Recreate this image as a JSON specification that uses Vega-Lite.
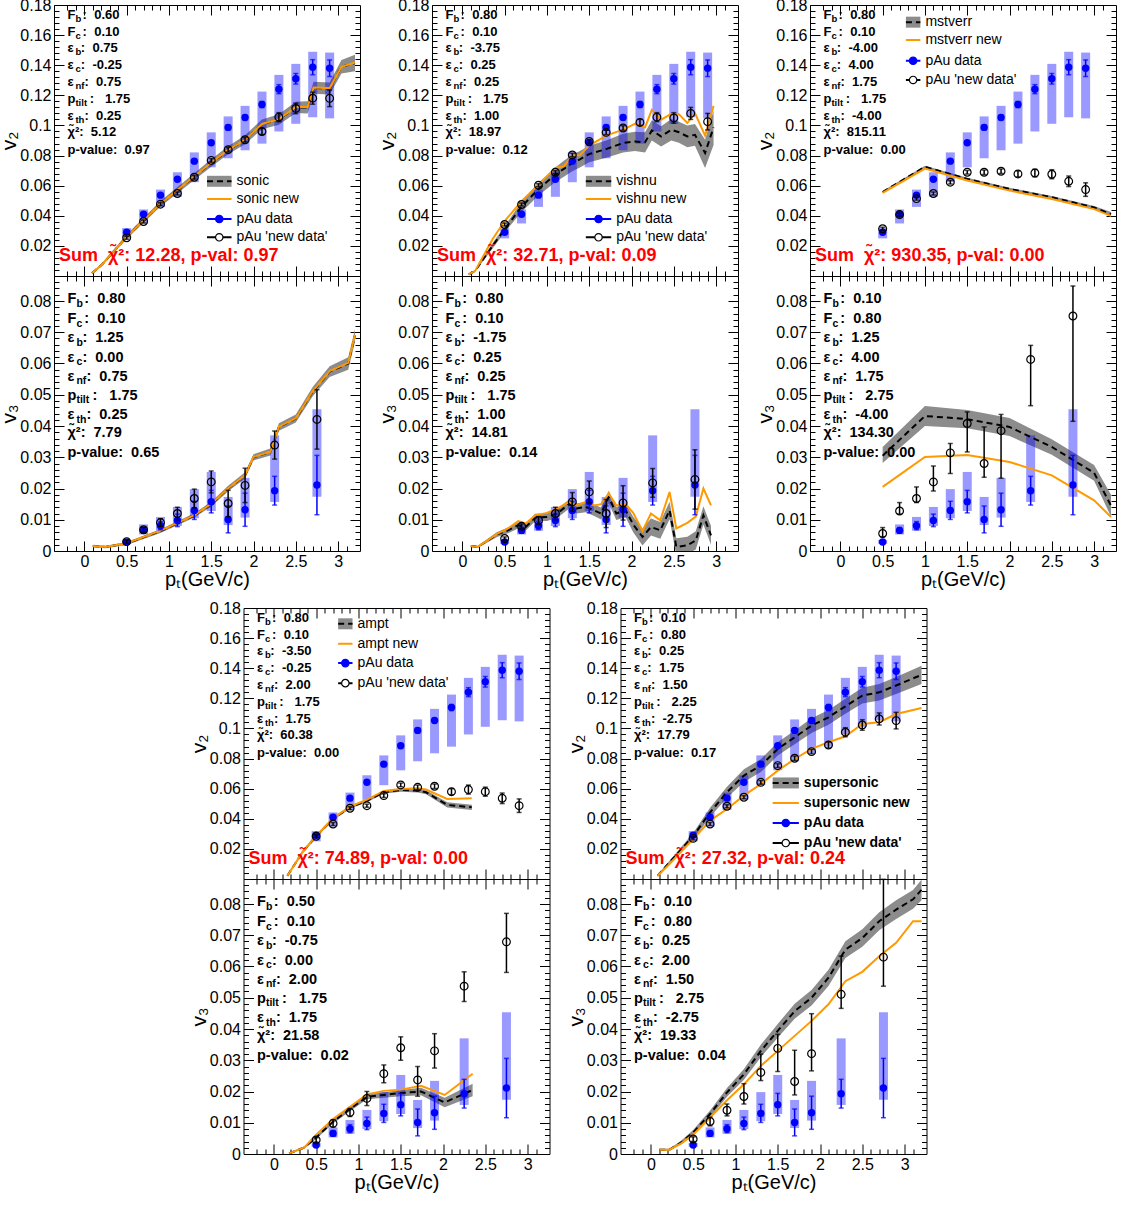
{
"$schema":"https://vega.github.io/schema/vega-lite/v6.json",
"background":"#ffffff",
"padding":{"left":-2,"top":-4,"right":0,"bottom":0},
"config":{"font":"Liberation Sans","view":{"stroke":"#000000","strokeWidth":1},
"axis":{"domain":false,"grid":false,"tickColor":"#000000","tickWidth":1,"labelFontSize":16,"labelColor":"#000000","labelOverlap":false,"labelFlush":false,"titleFontSize":21,"titleFontWeight":"normal","titleColor":"#000000"},
"axisBottom":{"titleFontSize":20,"titlePadding":-5}},
"datasets":{"d":[
{"k":"d","p":"all","v":"v2","pt":0.5,"val":0.0291,"lo":0.0281,"hi":0.0301,"slo":0.025,"shi":0.0318},
{"k":"d","p":"all","v":"v2","pt":0.7,"val":0.041,"lo":0.04,"hi":0.042,"slo":0.0349,"shi":0.0442},
{"k":"d","p":"all","v":"v2","pt":0.9,"val":0.0537,"lo":0.0527,"hi":0.0547,"slo":0.0459,"shi":0.0574},
{"k":"d","p":"all","v":"v2","pt":1.1,"val":0.0643,"lo":0.0633,"hi":0.0653,"slo":0.0526,"shi":0.0689},
{"k":"d","p":"all","v":"v2","pt":1.3,"val":0.0763,"lo":0.0751,"hi":0.0775,"slo":0.0623,"shi":0.0821},
{"k":"d","p":"all","v":"v2","pt":1.5,"val":0.0885,"lo":0.0873,"hi":0.0897,"slo":0.0722,"shi":0.0954},
{"k":"d","p":"all","v":"v2","pt":1.7,"val":0.0987,"lo":0.0972,"hi":0.1002,"slo":0.0782,"shi":0.106},
{"k":"d","p":"all","v":"v2","pt":1.9,"val":0.1053,"lo":0.1038,"hi":0.1068,"slo":0.0835,"shi":0.113},
{"k":"d","p":"all","v":"v2","pt":2.1,"val":0.1139,"lo":0.1119,"hi":0.1159,"slo":0.0879,"shi":0.1225},
{"k":"d","p":"all","v":"v2","pt":2.3,"val":0.1241,"lo":0.1211,"hi":0.1271,"slo":0.096,"shi":0.1336},
{"k":"d","p":"all","v":"v2","pt":2.5,"val":0.131,"lo":0.1275,"hi":0.1345,"slo":0.1011,"shi":0.1409},
{"k":"d","p":"all","v":"v2","pt":2.7,"val":0.1387,"lo":0.1337,"hi":0.1437,"slo":0.1055,"shi":0.149},
{"k":"d","p":"all","v":"v2","pt":2.9,"val":0.138,"lo":0.1325,"hi":0.1435,"slo":0.1047,"shi":0.1484},
{"k":"d","p":"all","v":"v3","pt":0.5,"val":0.0029,"lo":0.0024,"hi":0.0034,"slo":0.0023,"shi":0.0035},
{"k":"d","p":"all","v":"v3","pt":0.7,"val":0.0066,"lo":0.0057,"hi":0.0075,"slo":0.0053,"shi":0.0085},
{"k":"d","p":"all","v":"v3","pt":0.9,"val":0.0081,"lo":0.0068,"hi":0.0094,"slo":0.0065,"shi":0.0109},
{"k":"d","p":"all","v":"v3","pt":1.1,"val":0.0098,"lo":0.0078,"hi":0.0118,"slo":0.008,"shi":0.0141},
{"k":"d","p":"all","v":"v3","pt":1.3,"val":0.013,"lo":0.0101,"hi":0.0159,"slo":0.0105,"shi":0.0198},
{"k":"d","p":"all","v":"v3","pt":1.5,"val":0.0158,"lo":0.0122,"hi":0.0194,"slo":0.0128,"shi":0.0253},
{"k":"d","p":"all","v":"v3","pt":1.7,"val":0.0101,"lo":0.0058,"hi":0.0144,"slo":0.0083,"shi":0.0173},
{"k":"d","p":"all","v":"v3","pt":1.9,"val":0.0132,"lo":0.0079,"hi":0.0185,"slo":0.0107,"shi":0.0234},
{"k":"d","p":"all","v":"v3","pt":2.25,"val":0.0193,"lo":0.0147,"hi":0.0239,"slo":0.0157,"shi":0.037},
{"k":"d","p":"all","v":"v3","pt":2.75,"val":0.0211,"lo":0.0116,"hi":0.0306,"slo":0.0174,"shi":0.0454},

{"k":"m","p":"sonic","v":"v2","pt":0.09,"mid":0.0018,"lo":0.0012,"hi":0.0024,"nw":0.0018},
{"k":"m","p":"sonic","v":"v2","pt":0.21,"mid":0.0077,"lo":0.0068,"hi":0.0086,"nw":0.0077},
{"k":"m","p":"sonic","v":"v2","pt":0.5,"mid":0.026,"lo":0.0245,"hi":0.0275,"nw":0.026},
{"k":"m","p":"sonic","v":"v2","pt":0.9,"mid":0.048,"lo":0.0462,"hi":0.0498,"nw":0.048},
{"k":"m","p":"sonic","v":"v2","pt":1.3,"mid":0.066,"lo":0.0638,"hi":0.0682,"nw":0.0662},
{"k":"m","p":"sonic","v":"v2","pt":1.5,"mid":0.075,"lo":0.0725,"hi":0.0775,"nw":0.0752},
{"k":"m","p":"sonic","v":"v2","pt":1.7,"mid":0.0835,"lo":0.0808,"hi":0.0862,"nw":0.0838},
{"k":"m","p":"sonic","v":"v2","pt":1.9,"mid":0.0905,"lo":0.0875,"hi":0.0935,"nw":0.0905},
{"k":"m","p":"sonic","v":"v2","pt":2.1,"mid":0.1008,"lo":0.0975,"hi":0.104,"nw":0.101},
{"k":"m","p":"sonic","v":"v2","pt":2.3,"mid":0.104,"lo":0.1005,"hi":0.1075,"nw":0.1042},
{"k":"m","p":"sonic","v":"v2","pt":2.5,"mid":0.112,"lo":0.1083,"hi":0.1157,"nw":0.1122},
{"k":"m","p":"sonic","v":"v2","pt":2.64,"mid":0.112,"lo":0.108,"hi":0.116,"nw":0.1122},
{"k":"m","p":"sonic","v":"v2","pt":2.71,"mid":0.125,"lo":0.121,"hi":0.129,"nw":0.1252},
{"k":"m","p":"sonic","v":"v2","pt":2.9,"mid":0.1245,"lo":0.1205,"hi":0.1285,"nw":0.1248},
{"k":"m","p":"sonic","v":"v2","pt":3.04,"mid":0.139,"lo":0.1345,"hi":0.1435,"nw":0.139},
{"k":"m","p":"sonic","v":"v2","pt":3.2,"mid":0.1415,"lo":0.136,"hi":0.147,"nw":0.1418},
{"k":"m","p":"sonic","v":"v3","pt":0.1,"mid":0.0016,"lo":0.0012,"hi":0.002,"nw":0.0016},
{"k":"m","p":"sonic","v":"v3","pt":0.25,"mid":0.0013,"lo":0.0009,"hi":0.0017,"nw":0.0013},
{"k":"m","p":"sonic","v":"v3","pt":0.5,"mid":0.0024,"lo":0.0019,"hi":0.0029,"nw":0.0025},
{"k":"m","p":"sonic","v":"v3","pt":0.9,"mid":0.0064,"lo":0.0058,"hi":0.007,"nw":0.0065},
{"k":"m","p":"sonic","v":"v3","pt":1.3,"mid":0.0114,"lo":0.0107,"hi":0.0121,"nw":0.0115},
{"k":"m","p":"sonic","v":"v3","pt":1.5,"mid":0.015,"lo":0.0142,"hi":0.0158,"nw":0.0151},
{"k":"m","p":"sonic","v":"v3","pt":1.7,"mid":0.02,"lo":0.0191,"hi":0.0209,"nw":0.0201},
{"k":"m","p":"sonic","v":"v3","pt":1.9,"mid":0.0242,"lo":0.0232,"hi":0.0252,"nw":0.0243},
{"k":"m","p":"sonic","v":"v3","pt":2.0,"mid":0.03,"lo":0.029,"hi":0.031,"nw":0.0301},
{"k":"m","p":"sonic","v":"v3","pt":2.2,"mid":0.0317,"lo":0.0306,"hi":0.0328,"nw":0.0318},
{"k":"m","p":"sonic","v":"v3","pt":2.3,"mid":0.0397,"lo":0.0385,"hi":0.0409,"nw":0.0398},
{"k":"m","p":"sonic","v":"v3","pt":2.5,"mid":0.0424,"lo":0.0411,"hi":0.0437,"nw":0.0425},
{"k":"m","p":"sonic","v":"v3","pt":2.7,"mid":0.051,"lo":0.0495,"hi":0.0525,"nw":0.0512},
{"k":"m","p":"sonic","v":"v3","pt":2.9,"mid":0.0574,"lo":0.0557,"hi":0.0591,"nw":0.0576},
{"k":"m","p":"sonic","v":"v3","pt":3.12,"mid":0.06,"lo":0.058,"hi":0.062,"nw":0.0602},
{"k":"m","p":"sonic","v":"v3","pt":3.2,"mid":0.069,"lo":0.067,"hi":0.071,"nw":0.0692},

{"k":"m","p":"vishnu","v":"v2","pt":0.075,"mid":0.0011,"lo":0.0008,"hi":0.0014,"nw":0.0011},
{"k":"m","p":"vishnu","v":"v2","pt":0.15,"mid":0.0033,"lo":0.0028,"hi":0.0038,"nw":0.0033},
{"k":"m","p":"vishnu","v":"v2","pt":0.36,"mid":0.0203,"lo":0.0185,"hi":0.0221,"nw":0.0247},
{"k":"m","p":"vishnu","v":"v2","pt":0.5,"mid":0.031,"lo":0.029,"hi":0.033,"nw":0.0364},
{"k":"m","p":"vishnu","v":"v2","pt":0.7,"mid":0.046,"lo":0.0425,"hi":0.0495,"nw":0.0497},
{"k":"m","p":"vishnu","v":"v2","pt":0.9,"mid":0.0578,"lo":0.0535,"hi":0.062,"nw":0.0607},
{"k":"m","p":"vishnu","v":"v2","pt":1.1,"mid":0.0673,"lo":0.0625,"hi":0.072,"nw":0.0718},
{"k":"m","p":"vishnu","v":"v2","pt":1.2,"mid":0.0712,"lo":0.066,"hi":0.0765,"nw":0.0729},
{"k":"m","p":"vishnu","v":"v2","pt":1.3,"mid":0.075,"lo":0.0695,"hi":0.0805,"nw":0.08},
{"k":"m","p":"vishnu","v":"v2","pt":1.39,"mid":0.0775,"lo":0.072,"hi":0.083,"nw":0.0804},
{"k":"m","p":"vishnu","v":"v2","pt":1.5,"mid":0.081,"lo":0.0755,"hi":0.0865,"nw":0.0866},
{"k":"m","p":"vishnu","v":"v2","pt":1.7,"mid":0.0843,"lo":0.0785,"hi":0.09,"nw":0.0932},
{"k":"m","p":"vishnu","v":"v2","pt":1.9,"mid":0.0883,"lo":0.082,"hi":0.0945,"nw":0.0972},
{"k":"m","p":"vishnu","v":"v2","pt":2.04,"mid":0.0894,"lo":0.083,"hi":0.0958,"nw":0.1011},
{"k":"m","p":"vishnu","v":"v2","pt":2.16,"mid":0.0888,"lo":0.082,"hi":0.0955,"nw":0.0987},
{"k":"m","p":"vishnu","v":"v2","pt":2.24,"mid":0.0967,"lo":0.09,"hi":0.1035,"nw":0.1104},
{"k":"m","p":"vishnu","v":"v2","pt":2.35,"mid":0.0927,"lo":0.086,"hi":0.0995,"nw":0.1038},
{"k":"m","p":"vishnu","v":"v2","pt":2.47,"mid":0.0971,"lo":0.09,"hi":0.1042,"nw":0.1077},
{"k":"m","p":"vishnu","v":"v2","pt":2.56,"mid":0.0955,"lo":0.0885,"hi":0.1025,"nw":0.1075},
{"k":"m","p":"vishnu","v":"v2","pt":2.66,"mid":0.0927,"lo":0.0855,"hi":0.1,"nw":0.1016},
{"k":"m","p":"vishnu","v":"v2","pt":2.75,"mid":0.0938,"lo":0.0865,"hi":0.101,"nw":0.1082},
{"k":"m","p":"vishnu","v":"v2","pt":2.87,"mid":0.0817,"lo":0.0718,"hi":0.0905,"nw":0.0932},
{"k":"m","p":"vishnu","v":"v2","pt":2.97,"mid":0.0987,"lo":0.087,"hi":0.11,"nw":0.113},
{"k":"m","p":"vishnu","v":"v3","pt":0.1,"mid":0.0016,"lo":0.0013,"hi":0.0019,"nw":0.0016},
{"k":"m","p":"vishnu","v":"v3","pt":0.18,"mid":0.0013,"lo":0.001,"hi":0.0016,"nw":0.0013},
{"k":"m","p":"vishnu","v":"v3","pt":0.41,"mid":0.0053,"lo":0.0045,"hi":0.0061,"nw":0.0055},
{"k":"m","p":"vishnu","v":"v3","pt":0.54,"mid":0.0066,"lo":0.0057,"hi":0.0075,"nw":0.0072},
{"k":"m","p":"vishnu","v":"v3","pt":0.66,"mid":0.0082,"lo":0.0072,"hi":0.0092,"nw":0.0096},
{"k":"m","p":"vishnu","v":"v3","pt":0.75,"mid":0.0077,"lo":0.0066,"hi":0.0088,"nw":0.0088},
{"k":"m","p":"vishnu","v":"v3","pt":0.86,"mid":0.0107,"lo":0.0095,"hi":0.0119,"nw":0.0114},
{"k":"m","p":"vishnu","v":"v3","pt":1.0,"mid":0.0109,"lo":0.0096,"hi":0.0122,"nw":0.0122},
{"k":"m","p":"vishnu","v":"v3","pt":1.12,"mid":0.012,"lo":0.0106,"hi":0.0134,"nw":0.0136},
{"k":"m","p":"vishnu","v":"v3","pt":1.26,"mid":0.015,"lo":0.0135,"hi":0.0165,"nw":0.0157},
{"k":"m","p":"vishnu","v":"v3","pt":1.35,"mid":0.0136,"lo":0.012,"hi":0.0152,"nw":0.0146},
{"k":"m","p":"vishnu","v":"v3","pt":1.46,"mid":0.0141,"lo":0.0124,"hi":0.0158,"nw":0.0157},
{"k":"m","p":"vishnu","v":"v3","pt":1.56,"mid":0.013,"lo":0.0112,"hi":0.0148,"nw":0.0146},
{"k":"m","p":"vishnu","v":"v3","pt":1.64,"mid":0.012,"lo":0.0101,"hi":0.0139,"nw":0.015},
{"k":"m","p":"vishnu","v":"v3","pt":1.73,"mid":0.0173,"lo":0.0153,"hi":0.0193,"nw":0.0184},
{"k":"m","p":"vishnu","v":"v3","pt":1.82,"mid":0.012,"lo":0.0099,"hi":0.0141,"nw":0.0146},
{"k":"m","p":"vishnu","v":"v3","pt":1.93,"mid":0.013,"lo":0.0108,"hi":0.0152,"nw":0.015},
{"k":"m","p":"vishnu","v":"v3","pt":2.02,"mid":0.0085,"lo":0.006,"hi":0.011,"nw":0.0122},
{"k":"m","p":"vishnu","v":"v3","pt":2.13,"mid":0.0045,"lo":0.0018,"hi":0.0072,"nw":0.0064},
{"k":"m","p":"vishnu","v":"v3","pt":2.23,"mid":0.0077,"lo":0.005,"hi":0.0104,"nw":0.012},
{"k":"m","p":"vishnu","v":"v3","pt":2.34,"mid":0.0066,"lo":0.0039,"hi":0.0093,"nw":0.0098},
{"k":"m","p":"vishnu","v":"v3","pt":2.45,"mid":0.013,"lo":0.0102,"hi":0.0158,"nw":0.0189},
{"k":"m","p":"vishnu","v":"v3","pt":2.53,"mid":0.0013,"lo":-0.0015,"hi":0.0041,"nw":0.0072},
{"k":"m","p":"vishnu","v":"v3","pt":2.66,"mid":0.0018,"lo":-0.001,"hi":0.0046,"nw":0.009},
{"k":"m","p":"vishnu","v":"v3","pt":2.76,"mid":0.0034,"lo":0.0005,"hi":0.0063,"nw":0.011},
{"k":"m","p":"vishnu","v":"v3","pt":2.85,"mid":0.0114,"lo":0.0085,"hi":0.0143,"nw":0.02},
{"k":"m","p":"vishnu","v":"v3","pt":2.94,"mid":0.005,"lo":0.002,"hi":0.008,"nw":0.0146},

{"k":"m","p":"mstverr","v":"v2","pt":0.5,"mid":0.0558,"lo":0.0551,"hi":0.0565,"nw":0.0552},
{"k":"m","p":"mstverr","v":"v2","pt":1.0,"mid":0.0725,"lo":0.0717,"hi":0.0733,"nw":0.0713},
{"k":"m","p":"mstverr","v":"v2","pt":1.5,"mid":0.0645,"lo":0.0637,"hi":0.0653,"nw":0.0634},
{"k":"m","p":"mstverr","v":"v2","pt":2.0,"mid":0.0578,"lo":0.057,"hi":0.0586,"nw":0.0567},
{"k":"m","p":"mstverr","v":"v2","pt":2.5,"mid":0.0523,"lo":0.0515,"hi":0.0531,"nw":0.0512},
{"k":"m","p":"mstverr","v":"v2","pt":3.0,"mid":0.0455,"lo":0.0445,"hi":0.0465,"nw":0.0444},
{"k":"m","p":"mstverr","v":"v2","pt":3.2,"mid":0.041,"lo":0.0395,"hi":0.0425,"nw":0.0399},
{"k":"m","p":"mstverr","v":"v3","pt":0.5,"mid":0.0305,"lo":0.0282,"hi":0.0333,"nw":0.0205},
{"k":"m","p":"mstverr","v":"v3","pt":1.0,"mid":0.0432,"lo":0.04,"hi":0.0464,"nw":0.0301},
{"k":"m","p":"mstverr","v":"v3","pt":1.5,"mid":0.0422,"lo":0.0393,"hi":0.0451,"nw":0.0307},
{"k":"m","p":"mstverr","v":"v3","pt":2.0,"mid":0.0397,"lo":0.0368,"hi":0.0426,"nw":0.0285},
{"k":"m","p":"mstverr","v":"v3","pt":2.5,"mid":0.0333,"lo":0.0308,"hi":0.0358,"nw":0.0242},
{"k":"m","p":"mstverr","v":"v3","pt":3.0,"mid":0.025,"lo":0.0225,"hi":0.0275,"nw":0.0162},
{"k":"m","p":"mstverr","v":"v3","pt":3.2,"mid":0.0145,"lo":0.011,"hi":0.018,"nw":0.0109},

{"k":"m","p":"ampt","v":"v2","pt":0.16,"mid":0.0022,"lo":0.0015,"hi":0.0029,"nw":0.0022},
{"k":"m","p":"ampt","v":"v2","pt":0.34,"mid":0.018,"lo":0.017,"hi":0.019,"nw":0.018},
{"k":"m","p":"ampt","v":"v2","pt":0.5,"mid":0.0284,"lo":0.0274,"hi":0.0294,"nw":0.0286},
{"k":"m","p":"ampt","v":"v2","pt":0.7,"mid":0.04,"lo":0.039,"hi":0.041,"nw":0.0403},
{"k":"m","p":"ampt","v":"v2","pt":0.9,"mid":0.0476,"lo":0.0466,"hi":0.0486,"nw":0.048},
{"k":"m","p":"ampt","v":"v2","pt":1.1,"mid":0.052,"lo":0.051,"hi":0.053,"nw":0.0527},
{"k":"m","p":"ampt","v":"v2","pt":1.3,"mid":0.0576,"lo":0.0566,"hi":0.0586,"nw":0.0585},
{"k":"m","p":"ampt","v":"v2","pt":1.5,"mid":0.0591,"lo":0.058,"hi":0.0602,"nw":0.0598},
{"k":"m","p":"ampt","v":"v2","pt":1.7,"mid":0.0587,"lo":0.0575,"hi":0.0599,"nw":0.0602},
{"k":"m","p":"ampt","v":"v2","pt":1.8,"mid":0.0576,"lo":0.0563,"hi":0.0589,"nw":0.0594},
{"k":"m","p":"ampt","v":"v2","pt":2.05,"mid":0.0492,"lo":0.0475,"hi":0.0509,"nw":0.0532},
{"k":"m","p":"ampt","v":"v2","pt":2.34,"mid":0.0476,"lo":0.0458,"hi":0.0494,"nw":0.0536},
{"k":"m","p":"ampt","v":"v3","pt":0.18,"mid":0.0002,"lo":0.0,"hi":0.0004,"nw":0.0002},
{"k":"m","p":"ampt","v":"v3","pt":0.36,"mid":0.0021,"lo":0.0017,"hi":0.0025,"nw":0.0021},
{"k":"m","p":"ampt","v":"v3","pt":0.5,"mid":0.0053,"lo":0.0048,"hi":0.0058,"nw":0.0062},
{"k":"m","p":"ampt","v":"v3","pt":0.7,"mid":0.0104,"lo":0.0098,"hi":0.011,"nw":0.0112},
{"k":"m","p":"ampt","v":"v3","pt":0.9,"mid":0.0144,"lo":0.0137,"hi":0.0151,"nw":0.0151},
{"k":"m","p":"ampt","v":"v3","pt":1.1,"mid":0.0183,"lo":0.0175,"hi":0.0191,"nw":0.0191},
{"k":"m","p":"ampt","v":"v3","pt":1.3,"mid":0.0189,"lo":0.018,"hi":0.0198,"nw":0.0202},
{"k":"m","p":"ampt","v":"v3","pt":1.5,"mid":0.0195,"lo":0.0185,"hi":0.0205,"nw":0.0206},
{"k":"m","p":"ampt","v":"v3","pt":1.74,"mid":0.02,"lo":0.0188,"hi":0.0212,"nw":0.0218},
{"k":"m","p":"ampt","v":"v3","pt":2.02,"mid":0.0165,"lo":0.015,"hi":0.018,"nw":0.0189},
{"k":"m","p":"ampt","v":"v3","pt":2.35,"mid":0.0205,"lo":0.0185,"hi":0.0225,"nw":0.0257},

{"k":"m","p":"supersonic","v":"v2","pt":0.08,"mid":0.0022,"lo":0.0015,"hi":0.0029,"nw":0.0022},
{"k":"m","p":"supersonic","v":"v2","pt":0.22,"mid":0.011,"lo":0.0098,"hi":0.0122,"nw":0.01},
{"k":"m","p":"supersonic","v":"v2","pt":0.5,"mid":0.0284,"lo":0.0262,"hi":0.0306,"nw":0.0266},
{"k":"m","p":"supersonic","v":"v2","pt":0.7,"mid":0.0443,"lo":0.0412,"hi":0.0474,"nw":0.0388},
{"k":"m","p":"supersonic","v":"v2","pt":0.9,"mid":0.0576,"lo":0.054,"hi":0.0612,"nw":0.0465},
{"k":"m","p":"supersonic","v":"v2","pt":1.1,"mid":0.0687,"lo":0.0645,"hi":0.0729,"nw":0.0554},
{"k":"m","p":"supersonic","v":"v2","pt":1.3,"mid":0.0753,"lo":0.071,"hi":0.0796,"nw":0.0631},
{"k":"m","p":"supersonic","v":"v2","pt":1.5,"mid":0.0864,"lo":0.082,"hi":0.0908,"nw":0.072},
{"k":"m","p":"supersonic","v":"v2","pt":1.7,"mid":0.0941,"lo":0.0895,"hi":0.0987,"nw":0.0797},
{"k":"m","p":"supersonic","v":"v2","pt":1.9,"mid":0.1019,"lo":0.097,"hi":0.1068,"nw":0.0864},
{"k":"m","p":"supersonic","v":"v2","pt":2.1,"mid":0.1074,"lo":0.1025,"hi":0.1123,"nw":0.0908},
{"k":"m","p":"supersonic","v":"v2","pt":2.3,"mid":0.1147,"lo":0.1097,"hi":0.1197,"nw":0.0948},
{"k":"m","p":"supersonic","v":"v2","pt":2.5,"mid":0.1218,"lo":0.1165,"hi":0.1271,"nw":0.103},
{"k":"m","p":"supersonic","v":"v2","pt":2.7,"mid":0.124,"lo":0.1185,"hi":0.1295,"nw":0.1041},
{"k":"m","p":"supersonic","v":"v2","pt":2.9,"mid":0.1285,"lo":0.1228,"hi":0.1342,"nw":0.1096},
{"k":"m","p":"supersonic","v":"v2","pt":3.2,"mid":0.1356,"lo":0.1295,"hi":0.1417,"nw":0.1136},
{"k":"m","p":"supersonic","v":"v3","pt":0.1,"mid":0.0014,"lo":0.0011,"hi":0.0017,"nw":0.0014},
{"k":"m","p":"supersonic","v":"v3","pt":0.22,"mid":0.0014,"lo":0.0011,"hi":0.0017,"nw":0.0014},
{"k":"m","p":"supersonic","v":"v3","pt":0.36,"mid":0.0037,"lo":0.0031,"hi":0.0043,"nw":0.0034},
{"k":"m","p":"supersonic","v":"v3","pt":0.5,"mid":0.0069,"lo":0.0061,"hi":0.0077,"nw":0.0062},
{"k":"m","p":"supersonic","v":"v3","pt":0.7,"mid":0.0128,"lo":0.0117,"hi":0.0139,"nw":0.0117},
{"k":"m","p":"supersonic","v":"v3","pt":0.9,"mid":0.0197,"lo":0.0183,"hi":0.0211,"nw":0.0172},
{"k":"m","p":"supersonic","v":"v3","pt":1.1,"mid":0.0255,"lo":0.0238,"hi":0.0272,"nw":0.0223},
{"k":"m","p":"supersonic","v":"v3","pt":1.3,"mid":0.033,"lo":0.031,"hi":0.035,"nw":0.0282},
{"k":"m","p":"supersonic","v":"v3","pt":1.5,"mid":0.0394,"lo":0.0372,"hi":0.0416,"nw":0.033},
{"k":"m","p":"supersonic","v":"v3","pt":1.7,"mid":0.0457,"lo":0.0433,"hi":0.0481,"nw":0.0378},
{"k":"m","p":"supersonic","v":"v3","pt":1.9,"mid":0.05,"lo":0.0475,"hi":0.0525,"nw":0.0426},
{"k":"m","p":"supersonic","v":"v3","pt":2.1,"mid":0.0564,"lo":0.0538,"hi":0.059,"nw":0.0479},
{"k":"m","p":"supersonic","v":"v3","pt":2.3,"mid":0.0654,"lo":0.0627,"hi":0.0681,"nw":0.0553},
{"k":"m","p":"supersonic","v":"v3","pt":2.5,"mid":0.0691,"lo":0.0663,"hi":0.0719,"nw":0.0583},
{"k":"m","p":"supersonic","v":"v3","pt":2.7,"mid":0.0745,"lo":0.0716,"hi":0.0774,"nw":0.0633},
{"k":"m","p":"supersonic","v":"v3","pt":2.9,"mid":0.0782,"lo":0.0752,"hi":0.0812,"nw":0.0676},
{"k":"m","p":"supersonic","v":"v3","pt":3.1,"mid":0.0815,"lo":0.0785,"hi":0.0845,"nw":0.0745},
{"k":"m","p":"supersonic","v":"v3","pt":3.2,"mid":0.0845,"lo":0.0812,"hi":0.0878,"nw":0.0745},

{"k":"o","p":"sonic","v":"v2","pt":0.5,"val":0.0254,"lo":0.0244,"hi":0.0264},
{"k":"o","p":"sonic","v":"v2","pt":0.7,"val":0.0362,"lo":0.0352,"hi":0.0372},
{"k":"o","p":"sonic","v":"v2","pt":0.9,"val":0.0477,"lo":0.0467,"hi":0.0487},
{"k":"o","p":"sonic","v":"v2","pt":1.1,"val":0.0548,"lo":0.0538,"hi":0.0558},
{"k":"o","p":"sonic","v":"v2","pt":1.3,"val":0.0656,"lo":0.0644,"hi":0.0668},
{"k":"o","p":"sonic","v":"v2","pt":1.5,"val":0.0768,"lo":0.0756,"hi":0.078},
{"k":"o","p":"sonic","v":"v2","pt":1.7,"val":0.0839,"lo":0.0824,"hi":0.0854},
{"k":"o","p":"sonic","v":"v2","pt":1.9,"val":0.0905,"lo":0.089,"hi":0.092},
{"k":"o","p":"sonic","v":"v2","pt":2.1,"val":0.096,"lo":0.094,"hi":0.098},
{"k":"o","p":"sonic","v":"v2","pt":2.3,"val":0.1055,"lo":0.1025,"hi":0.1085},
{"k":"o","p":"sonic","v":"v2","pt":2.5,"val":0.1113,"lo":0.1078,"hi":0.1148},
{"k":"o","p":"sonic","v":"v2","pt":2.7,"val":0.1181,"lo":0.1141,"hi":0.1221},
{"k":"o","p":"sonic","v":"v2","pt":2.9,"val":0.118,"lo":0.1125,"hi":0.1235},
{"k":"o","p":"sonic","v":"v3","pt":0.5,"val":0.003,"lo":0.0025,"hi":0.0035},
{"k":"o","p":"sonic","v":"v3","pt":0.7,"val":0.0068,"lo":0.006,"hi":0.0076},
{"k":"o","p":"sonic","v":"v3","pt":0.9,"val":0.0091,"lo":0.0079,"hi":0.0103},
{"k":"o","p":"sonic","v":"v3","pt":1.1,"val":0.012,"lo":0.01,"hi":0.014},
{"k":"o","p":"sonic","v":"v3","pt":1.3,"val":0.0168,"lo":0.0138,"hi":0.0198},
{"k":"o","p":"sonic","v":"v3","pt":1.5,"val":0.0221,"lo":0.0186,"hi":0.0256},
{"k":"o","p":"sonic","v":"v3","pt":1.7,"val":0.0152,"lo":0.011,"hi":0.0194},
{"k":"o","p":"sonic","v":"v3","pt":1.9,"val":0.021,"lo":0.0155,"hi":0.0265},
{"k":"o","p":"sonic","v":"v3","pt":2.25,"val":0.0339,"lo":0.0294,"hi":0.0384},
{"k":"o","p":"sonic","v":"v3","pt":2.75,"val":0.0421,"lo":0.0326,"hi":0.0516},

{"k":"o","p":"vishnu","v":"v2","pt":0.5,"val":0.0342,"lo":0.0332,"hi":0.0352},
{"k":"o","p":"vishnu","v":"v2","pt":0.7,"val":0.0475,"lo":0.0465,"hi":0.0485},
{"k":"o","p":"vishnu","v":"v2","pt":0.9,"val":0.0603,"lo":0.0593,"hi":0.0613},
{"k":"o","p":"vishnu","v":"v2","pt":1.1,"val":0.0689,"lo":0.0679,"hi":0.0699},
{"k":"o","p":"vishnu","v":"v2","pt":1.3,"val":0.0804,"lo":0.0792,"hi":0.0816},
{"k":"o","p":"vishnu","v":"v2","pt":1.5,"val":0.0894,"lo":0.0882,"hi":0.0906},
{"k":"o","p":"vishnu","v":"v2","pt":1.7,"val":0.0954,"lo":0.0939,"hi":0.0969},
{"k":"o","p":"vishnu","v":"v2","pt":1.9,"val":0.0983,"lo":0.0968,"hi":0.0998},
{"k":"o","p":"vishnu","v":"v2","pt":2.1,"val":0.102,"lo":0.1,"hi":0.104},
{"k":"o","p":"vishnu","v":"v2","pt":2.3,"val":0.1055,"lo":0.1025,"hi":0.1085},
{"k":"o","p":"vishnu","v":"v2","pt":2.5,"val":0.105,"lo":0.1015,"hi":0.1085},
{"k":"o","p":"vishnu","v":"v2","pt":2.7,"val":0.108,"lo":0.104,"hi":0.112},
{"k":"o","p":"vishnu","v":"v2","pt":2.9,"val":0.1025,"lo":0.097,"hi":0.108},
{"k":"o","p":"vishnu","v":"v3","pt":0.5,"val":0.004,"lo":0.0035,"hi":0.0045},
{"k":"o","p":"vishnu","v":"v3","pt":0.7,"val":0.0079,"lo":0.0071,"hi":0.0087},
{"k":"o","p":"vishnu","v":"v3","pt":0.9,"val":0.0098,"lo":0.0086,"hi":0.011},
{"k":"o","p":"vishnu","v":"v3","pt":1.1,"val":0.012,"lo":0.01,"hi":0.014},
{"k":"o","p":"vishnu","v":"v3","pt":1.3,"val":0.0157,"lo":0.0127,"hi":0.0187},
{"k":"o","p":"vishnu","v":"v3","pt":1.5,"val":0.0189,"lo":0.0154,"hi":0.0224},
{"k":"o","p":"vishnu","v":"v3","pt":1.7,"val":0.012,"lo":0.0075,"hi":0.0165},
{"k":"o","p":"vishnu","v":"v3","pt":1.9,"val":0.0154,"lo":0.0099,"hi":0.0209},
{"k":"o","p":"vishnu","v":"v3","pt":2.25,"val":0.0218,"lo":0.0172,"hi":0.0264},
{"k":"o","p":"vishnu","v":"v3","pt":2.75,"val":0.0229,"lo":0.0134,"hi":0.0324},

{"k":"o","p":"mstverr","v":"v2","pt":0.5,"val":0.0314,"lo":0.0304,"hi":0.0324},
{"k":"o","p":"mstverr","v":"v2","pt":0.7,"val":0.0408,"lo":0.0398,"hi":0.0418},
{"k":"o","p":"mstverr","v":"v2","pt":0.9,"val":0.0514,"lo":0.0504,"hi":0.0524},
{"k":"o","p":"mstverr","v":"v2","pt":1.1,"val":0.0548,"lo":0.0538,"hi":0.0558},
{"k":"o","p":"mstverr","v":"v2","pt":1.3,"val":0.0623,"lo":0.0611,"hi":0.0635},
{"k":"o","p":"mstverr","v":"v2","pt":1.5,"val":0.0689,"lo":0.0677,"hi":0.0701},
{"k":"o","p":"mstverr","v":"v2","pt":1.7,"val":0.0689,"lo":0.0674,"hi":0.0704},
{"k":"o","p":"mstverr","v":"v2","pt":1.9,"val":0.0696,"lo":0.0681,"hi":0.0711},
{"k":"o","p":"mstverr","v":"v2","pt":2.1,"val":0.0678,"lo":0.0658,"hi":0.0698},
{"k":"o","p":"mstverr","v":"v2","pt":2.3,"val":0.0684,"lo":0.0659,"hi":0.0709},
{"k":"o","p":"mstverr","v":"v2","pt":2.5,"val":0.0676,"lo":0.0646,"hi":0.0706},
{"k":"o","p":"mstverr","v":"v2","pt":2.7,"val":0.0629,"lo":0.0594,"hi":0.0664},
{"k":"o","p":"mstverr","v":"v2","pt":2.9,"val":0.0574,"lo":0.0529,"hi":0.0619},
{"k":"o","p":"mstverr","v":"v3","pt":0.5,"val":0.0056,"lo":0.0045,"hi":0.0075},
{"k":"o","p":"mstverr","v":"v3","pt":0.7,"val":0.0128,"lo":0.0118,"hi":0.0155},
{"k":"o","p":"mstverr","v":"v3","pt":0.9,"val":0.0168,"lo":0.0155,"hi":0.0205},
{"k":"o","p":"mstverr","v":"v3","pt":1.1,"val":0.0221,"lo":0.0192,"hi":0.0272},
{"k":"o","p":"mstverr","v":"v3","pt":1.3,"val":0.0314,"lo":0.0248,"hi":0.0344},
{"k":"o","p":"mstverr","v":"v3","pt":1.5,"val":0.0408,"lo":0.0317,"hi":0.0445},
{"k":"o","p":"mstverr","v":"v3","pt":1.7,"val":0.028,"lo":0.0236,"hi":0.0397},
{"k":"o","p":"mstverr","v":"v3","pt":1.9,"val":0.0385,"lo":0.0233,"hi":0.0437},
{"k":"o","p":"mstverr","v":"v3","pt":2.25,"val":0.0613,"lo":0.0465,"hi":0.0658},
{"k":"o","p":"mstverr","v":"v3","pt":2.75,"val":0.0752,"lo":0.0415,"hi":0.0848},

{"k":"o","p":"ampt","v":"v2","pt":0.5,"val":0.0284,"lo":0.0274,"hi":0.0294},
{"k":"o","p":"ampt","v":"v2","pt":0.7,"val":0.0365,"lo":0.0355,"hi":0.0375},
{"k":"o","p":"ampt","v":"v2","pt":0.9,"val":0.047,"lo":0.046,"hi":0.048},
{"k":"o","p":"ampt","v":"v2","pt":1.1,"val":0.0487,"lo":0.0477,"hi":0.0497},
{"k":"o","p":"ampt","v":"v2","pt":1.3,"val":0.0554,"lo":0.0542,"hi":0.0566},
{"k":"o","p":"ampt","v":"v2","pt":1.5,"val":0.0625,"lo":0.0613,"hi":0.0637},
{"k":"o","p":"ampt","v":"v2","pt":1.7,"val":0.0609,"lo":0.0594,"hi":0.0624},
{"k":"o","p":"ampt","v":"v2","pt":1.9,"val":0.0616,"lo":0.0601,"hi":0.0631},
{"k":"o","p":"ampt","v":"v2","pt":2.1,"val":0.058,"lo":0.056,"hi":0.06},
{"k":"o","p":"ampt","v":"v2","pt":2.3,"val":0.0594,"lo":0.0564,"hi":0.0624},
{"k":"o","p":"ampt","v":"v2","pt":2.5,"val":0.058,"lo":0.055,"hi":0.061},
{"k":"o","p":"ampt","v":"v2","pt":2.7,"val":0.0536,"lo":0.0501,"hi":0.0571},
{"k":"o","p":"ampt","v":"v2","pt":2.9,"val":0.0487,"lo":0.0442,"hi":0.0532},
{"k":"o","p":"ampt","v":"v3","pt":0.5,"val":0.0045,"lo":0.0037,"hi":0.0052},
{"k":"o","p":"ampt","v":"v3","pt":0.7,"val":0.0098,"lo":0.0086,"hi":0.011},
{"k":"o","p":"ampt","v":"v3","pt":0.9,"val":0.0133,"lo":0.012,"hi":0.0146},
{"k":"o","p":"ampt","v":"v3","pt":1.1,"val":0.0178,"lo":0.0155,"hi":0.02},
{"k":"o","p":"ampt","v":"v3","pt":1.3,"val":0.0257,"lo":0.0228,"hi":0.0285},
{"k":"o","p":"ampt","v":"v3","pt":1.5,"val":0.034,"lo":0.03,"hi":0.0375},
{"k":"o","p":"ampt","v":"v3","pt":1.7,"val":0.0237,"lo":0.0185,"hi":0.028},
{"k":"o","p":"ampt","v":"v3","pt":1.9,"val":0.033,"lo":0.0275,"hi":0.0385},
{"k":"o","p":"ampt","v":"v3","pt":2.25,"val":0.0537,"lo":0.0488,"hi":0.0583},
{"k":"o","p":"ampt","v":"v3","pt":2.75,"val":0.0679,"lo":0.0581,"hi":0.077},

{"k":"o","p":"supersonic","v":"v2","pt":0.5,"val":0.027,"lo":0.026,"hi":0.028},
{"k":"o","p":"supersonic","v":"v2","pt":0.7,"val":0.0365,"lo":0.0355,"hi":0.0375},
{"k":"o","p":"supersonic","v":"v2","pt":0.9,"val":0.0483,"lo":0.0473,"hi":0.0493},
{"k":"o","p":"supersonic","v":"v2","pt":1.1,"val":0.0543,"lo":0.0533,"hi":0.0553},
{"k":"o","p":"supersonic","v":"v2","pt":1.3,"val":0.0642,"lo":0.063,"hi":0.0654},
{"k":"o","p":"supersonic","v":"v2","pt":1.5,"val":0.0753,"lo":0.0741,"hi":0.0765},
{"k":"o","p":"supersonic","v":"v2","pt":1.7,"val":0.0802,"lo":0.0787,"hi":0.0817},
{"k":"o","p":"supersonic","v":"v2","pt":1.9,"val":0.0846,"lo":0.0831,"hi":0.0861},
{"k":"o","p":"supersonic","v":"v2","pt":2.1,"val":0.089,"lo":0.087,"hi":0.091},
{"k":"o","p":"supersonic","v":"v2","pt":2.3,"val":0.0975,"lo":0.0945,"hi":0.1005},
{"k":"o","p":"supersonic","v":"v2","pt":2.5,"val":0.1023,"lo":0.0988,"hi":0.1058},
{"k":"o","p":"supersonic","v":"v2","pt":2.7,"val":0.1063,"lo":0.1023,"hi":0.1103},
{"k":"o","p":"supersonic","v":"v2","pt":2.9,"val":0.1052,"lo":0.0997,"hi":0.1107},
{"k":"o","p":"supersonic","v":"v3","pt":0.5,"val":0.0048,"lo":0.004,"hi":0.0055},
{"k":"o","p":"supersonic","v":"v3","pt":0.7,"val":0.0104,"lo":0.009,"hi":0.0118},
{"k":"o","p":"supersonic","v":"v3","pt":0.9,"val":0.014,"lo":0.0122,"hi":0.016},
{"k":"o","p":"supersonic","v":"v3","pt":1.1,"val":0.0184,"lo":0.016,"hi":0.0225},
{"k":"o","p":"supersonic","v":"v3","pt":1.3,"val":0.0261,"lo":0.0235,"hi":0.032},
{"k":"o","p":"supersonic","v":"v3","pt":1.5,"val":0.0338,"lo":0.0264,"hi":0.0383},
{"k":"o","p":"supersonic","v":"v3","pt":1.7,"val":0.0232,"lo":0.0189,"hi":0.0332},
{"k":"o","p":"supersonic","v":"v3","pt":1.9,"val":0.0321,"lo":0.0266,"hi":0.0449},
{"k":"o","p":"supersonic","v":"v3","pt":2.25,"val":0.0511,"lo":0.0466,"hi":0.0633},
{"k":"o","p":"supersonic","v":"v3","pt":2.75,"val":0.063,"lo":0.0537,"hi":0.0879},

{"k":"t","p":"sonic","v":"v2","y":0.1736,"t":"F\u00a0\u00a0:\u00a0\u00a00.60","s":"b"},
{"k":"t","p":"sonic","v":"v2","y":0.1619,"t":"F\u00a0\u00a0:\u00a0\u00a00.10","s":"c"},
{"k":"t","p":"sonic","v":"v2","y":0.1513,"t":"\u03b5\u00a0\u00a0:\u00a0\u00a00.75","s":"b"},
{"k":"t","p":"sonic","v":"v2","y":0.1402,"t":"\u03b5\u00a0\u00a0:\u00a0\u00a0-0.25","s":"c"},
{"k":"t","p":"sonic","v":"v2","y":0.1291,"t":"\u03b5\u00a0\u00a0\u00a0:\u00a0\u00a00.75","s":"nf"},
{"k":"t","p":"sonic","v":"v2","y":0.1176,"t":"p\u00a0\u00a0\u00a0\u00a0:\u00a0\u00a0\u00a01.75","s":"tilt"},
{"k":"t","p":"sonic","v":"v2","y":0.1065,"t":"\u03b5\u00a0\u00a0\u00a0:\u00a0\u00a00.25","s":"th"},
{"k":"t","p":"sonic","v":"v2","y":0.0954,"t":"\u00a0\u00a0\u03c7\u0303\u00b2:\u00a0\u00a05.12","s":""},
{"k":"t","p":"sonic","v":"v2","y":0.0837,"t":"p-value:\u00a0\u00a00.97","s":""},
{"k":"t","p":"sonic","v":"v3","y":0.0806,"t":"F\u00a0\u00a0:\u00a0\u00a00.80","s":"b"},
{"k":"t","p":"sonic","v":"v3","y":0.0742,"t":"F\u00a0\u00a0:\u00a0\u00a00.10","s":"c"},
{"k":"t","p":"sonic","v":"v3","y":0.0681,"t":"\u03b5\u00a0\u00a0:\u00a0\u00a01.25","s":"b"},
{"k":"t","p":"sonic","v":"v3","y":0.0619,"t":"\u03b5\u00a0\u00a0:\u00a0\u00a00.00","s":"c"},
{"k":"t","p":"sonic","v":"v3","y":0.0558,"t":"\u03b5\u00a0\u00a0\u00a0:\u00a0\u00a00.75","s":"nf"},
{"k":"t","p":"sonic","v":"v3","y":0.0497,"t":"p\u00a0\u00a0\u00a0\u00a0:\u00a0\u00a0\u00a01.75","s":"tilt"},
{"k":"t","p":"sonic","v":"v3","y":0.0435,"t":"\u03b5\u00a0\u00a0\u00a0:\u00a0\u00a00.25","s":"th"},
{"k":"t","p":"sonic","v":"v3","y":0.0377,"t":"\u00a0\u00a0\u03c7\u0303\u00b2:\u00a0\u00a07.79","s":""},
{"k":"t","p":"sonic","v":"v3","y":0.0314,"t":"p-value:\u00a0\u00a00.65","s":""},

{"k":"t","p":"vishnu","v":"v2","y":0.1736,"t":"F\u00a0\u00a0:\u00a0\u00a00.80","s":"b"},
{"k":"t","p":"vishnu","v":"v2","y":0.1619,"t":"F\u00a0\u00a0:\u00a0\u00a00.10","s":"c"},
{"k":"t","p":"vishnu","v":"v2","y":0.1513,"t":"\u03b5\u00a0\u00a0:\u00a0\u00a0-3.75","s":"b"},
{"k":"t","p":"vishnu","v":"v2","y":0.1402,"t":"\u03b5\u00a0\u00a0:\u00a0\u00a00.25","s":"c"},
{"k":"t","p":"vishnu","v":"v2","y":0.1291,"t":"\u03b5\u00a0\u00a0\u00a0:\u00a0\u00a00.25","s":"nf"},
{"k":"t","p":"vishnu","v":"v2","y":0.1176,"t":"p\u00a0\u00a0\u00a0\u00a0:\u00a0\u00a0\u00a01.75","s":"tilt"},
{"k":"t","p":"vishnu","v":"v2","y":0.1065,"t":"\u03b5\u00a0\u00a0\u00a0:\u00a0\u00a01.00","s":"th"},
{"k":"t","p":"vishnu","v":"v2","y":0.0954,"t":"\u00a0\u00a0\u03c7\u0303\u00b2:\u00a0\u00a018.97","s":""},
{"k":"t","p":"vishnu","v":"v2","y":0.0837,"t":"p-value:\u00a0\u00a00.12","s":""},
{"k":"t","p":"vishnu","v":"v3","y":0.0806,"t":"F\u00a0\u00a0:\u00a0\u00a00.80","s":"b"},
{"k":"t","p":"vishnu","v":"v3","y":0.0742,"t":"F\u00a0\u00a0:\u00a0\u00a00.10","s":"c"},
{"k":"t","p":"vishnu","v":"v3","y":0.0681,"t":"\u03b5\u00a0\u00a0:\u00a0\u00a0-1.75","s":"b"},
{"k":"t","p":"vishnu","v":"v3","y":0.0619,"t":"\u03b5\u00a0\u00a0:\u00a0\u00a00.25","s":"c"},
{"k":"t","p":"vishnu","v":"v3","y":0.0558,"t":"\u03b5\u00a0\u00a0\u00a0:\u00a0\u00a00.25","s":"nf"},
{"k":"t","p":"vishnu","v":"v3","y":0.0497,"t":"p\u00a0\u00a0\u00a0\u00a0:\u00a0\u00a0\u00a01.75","s":"tilt"},
{"k":"t","p":"vishnu","v":"v3","y":0.0435,"t":"\u03b5\u00a0\u00a0\u00a0:\u00a0\u00a01.00","s":"th"},
{"k":"t","p":"vishnu","v":"v3","y":0.0377,"t":"\u00a0\u00a0\u03c7\u0303\u00b2:\u00a0\u00a014.81","s":""},
{"k":"t","p":"vishnu","v":"v3","y":0.0314,"t":"p-value:\u00a0\u00a00.14","s":""},

{"k":"t","p":"mstverr","v":"v2","y":0.1736,"t":"F\u00a0\u00a0:\u00a0\u00a00.80","s":"b"},
{"k":"t","p":"mstverr","v":"v2","y":0.1619,"t":"F\u00a0\u00a0:\u00a0\u00a00.10","s":"c"},
{"k":"t","p":"mstverr","v":"v2","y":0.1513,"t":"\u03b5\u00a0\u00a0:\u00a0\u00a0-4.00","s":"b"},
{"k":"t","p":"mstverr","v":"v2","y":0.1402,"t":"\u03b5\u00a0\u00a0:\u00a0\u00a04.00","s":"c"},
{"k":"t","p":"mstverr","v":"v2","y":0.1291,"t":"\u03b5\u00a0\u00a0\u00a0:\u00a0\u00a01.75","s":"nf"},
{"k":"t","p":"mstverr","v":"v2","y":0.1176,"t":"p\u00a0\u00a0\u00a0\u00a0:\u00a0\u00a0\u00a01.75","s":"tilt"},
{"k":"t","p":"mstverr","v":"v2","y":0.1065,"t":"\u03b5\u00a0\u00a0\u00a0:\u00a0\u00a0-4.00","s":"th"},
{"k":"t","p":"mstverr","v":"v2","y":0.0954,"t":"\u00a0\u00a0\u03c7\u0303\u00b2:\u00a0\u00a0815.11","s":""},
{"k":"t","p":"mstverr","v":"v2","y":0.0837,"t":"p-value:\u00a0\u00a00.00","s":""},
{"k":"t","p":"mstverr","v":"v3","y":0.0806,"t":"F\u00a0\u00a0:\u00a0\u00a00.10","s":"b"},
{"k":"t","p":"mstverr","v":"v3","y":0.0742,"t":"F\u00a0\u00a0:\u00a0\u00a00.80","s":"c"},
{"k":"t","p":"mstverr","v":"v3","y":0.0681,"t":"\u03b5\u00a0\u00a0:\u00a0\u00a01.25","s":"b"},
{"k":"t","p":"mstverr","v":"v3","y":0.0619,"t":"\u03b5\u00a0\u00a0:\u00a0\u00a04.00","s":"c"},
{"k":"t","p":"mstverr","v":"v3","y":0.0558,"t":"\u03b5\u00a0\u00a0\u00a0:\u00a0\u00a01.75","s":"nf"},
{"k":"t","p":"mstverr","v":"v3","y":0.0497,"t":"p\u00a0\u00a0\u00a0\u00a0:\u00a0\u00a0\u00a02.75","s":"tilt"},
{"k":"t","p":"mstverr","v":"v3","y":0.0435,"t":"\u03b5\u00a0\u00a0\u00a0:\u00a0\u00a0-4.00","s":"th"},
{"k":"t","p":"mstverr","v":"v3","y":0.0377,"t":"\u00a0\u00a0\u03c7\u0303\u00b2:\u00a0\u00a0134.30","s":""},
{"k":"t","p":"mstverr","v":"v3","y":0.0314,"t":"p-value:\u00a0\u00a00.00","s":""},

{"k":"t","p":"ampt","v":"v2","y":0.1736,"t":"F\u00a0\u00a0:\u00a0\u00a00.80","s":"b"},
{"k":"t","p":"ampt","v":"v2","y":0.1619,"t":"F\u00a0\u00a0:\u00a0\u00a00.10","s":"c"},
{"k":"t","p":"ampt","v":"v2","y":0.1513,"t":"\u03b5\u00a0\u00a0:\u00a0\u00a0-3.50","s":"b"},
{"k":"t","p":"ampt","v":"v2","y":0.1402,"t":"\u03b5\u00a0\u00a0:\u00a0\u00a0-0.25","s":"c"},
{"k":"t","p":"ampt","v":"v2","y":0.1291,"t":"\u03b5\u00a0\u00a0\u00a0:\u00a0\u00a02.00","s":"nf"},
{"k":"t","p":"ampt","v":"v2","y":0.1176,"t":"p\u00a0\u00a0\u00a0\u00a0:\u00a0\u00a0\u00a01.75","s":"tilt"},
{"k":"t","p":"ampt","v":"v2","y":0.1065,"t":"\u03b5\u00a0\u00a0\u00a0:\u00a0\u00a01.75","s":"th"},
{"k":"t","p":"ampt","v":"v2","y":0.0954,"t":"\u00a0\u00a0\u03c7\u0303\u00b2:\u00a0\u00a060.38","s":""},
{"k":"t","p":"ampt","v":"v2","y":0.0837,"t":"p-value:\u00a0\u00a00.00","s":""},
{"k":"t","p":"ampt","v":"v3","y":0.0806,"t":"F\u00a0\u00a0:\u00a0\u00a00.50","s":"b"},
{"k":"t","p":"ampt","v":"v3","y":0.0742,"t":"F\u00a0\u00a0:\u00a0\u00a00.10","s":"c"},
{"k":"t","p":"ampt","v":"v3","y":0.0681,"t":"\u03b5\u00a0\u00a0:\u00a0\u00a0-0.75","s":"b"},
{"k":"t","p":"ampt","v":"v3","y":0.0619,"t":"\u03b5\u00a0\u00a0:\u00a0\u00a00.00","s":"c"},
{"k":"t","p":"ampt","v":"v3","y":0.0558,"t":"\u03b5\u00a0\u00a0\u00a0:\u00a0\u00a02.00","s":"nf"},
{"k":"t","p":"ampt","v":"v3","y":0.0497,"t":"p\u00a0\u00a0\u00a0\u00a0:\u00a0\u00a0\u00a01.75","s":"tilt"},
{"k":"t","p":"ampt","v":"v3","y":0.0435,"t":"\u03b5\u00a0\u00a0\u00a0:\u00a0\u00a01.75","s":"th"},
{"k":"t","p":"ampt","v":"v3","y":0.0377,"t":"\u00a0\u00a0\u03c7\u0303\u00b2:\u00a0\u00a021.58","s":""},
{"k":"t","p":"ampt","v":"v3","y":0.0314,"t":"p-value:\u00a0\u00a00.02","s":""},

{"k":"t","p":"supersonic","v":"v2","y":0.1736,"t":"F\u00a0\u00a0:\u00a0\u00a00.10","s":"b"},
{"k":"t","p":"supersonic","v":"v2","y":0.1619,"t":"F\u00a0\u00a0:\u00a0\u00a00.80","s":"c"},
{"k":"t","p":"supersonic","v":"v2","y":0.1513,"t":"\u03b5\u00a0\u00a0:\u00a0\u00a00.25","s":"b"},
{"k":"t","p":"supersonic","v":"v2","y":0.1402,"t":"\u03b5\u00a0\u00a0:\u00a0\u00a01.75","s":"c"},
{"k":"t","p":"supersonic","v":"v2","y":0.1291,"t":"\u03b5\u00a0\u00a0\u00a0:\u00a0\u00a01.50","s":"nf"},
{"k":"t","p":"supersonic","v":"v2","y":0.1176,"t":"p\u00a0\u00a0\u00a0\u00a0:\u00a0\u00a0\u00a02.25","s":"tilt"},
{"k":"t","p":"supersonic","v":"v2","y":0.1065,"t":"\u03b5\u00a0\u00a0\u00a0:\u00a0\u00a0-2.75","s":"th"},
{"k":"t","p":"supersonic","v":"v2","y":0.0954,"t":"\u00a0\u00a0\u03c7\u0303\u00b2:\u00a0\u00a017.79","s":""},
{"k":"t","p":"supersonic","v":"v2","y":0.0837,"t":"p-value:\u00a0\u00a00.17","s":""},
{"k":"t","p":"supersonic","v":"v3","y":0.0806,"t":"F\u00a0\u00a0:\u00a0\u00a00.10","s":"b"},
{"k":"t","p":"supersonic","v":"v3","y":0.0742,"t":"F\u00a0\u00a0:\u00a0\u00a00.80","s":"c"},
{"k":"t","p":"supersonic","v":"v3","y":0.0681,"t":"\u03b5\u00a0\u00a0:\u00a0\u00a00.25","s":"b"},
{"k":"t","p":"supersonic","v":"v3","y":0.0619,"t":"\u03b5\u00a0\u00a0:\u00a0\u00a02.00","s":"c"},
{"k":"t","p":"supersonic","v":"v3","y":0.0558,"t":"\u03b5\u00a0\u00a0\u00a0:\u00a0\u00a01.50","s":"nf"},
{"k":"t","p":"supersonic","v":"v3","y":0.0497,"t":"p\u00a0\u00a0\u00a0\u00a0:\u00a0\u00a0\u00a02.75","s":"tilt"},
{"k":"t","p":"supersonic","v":"v3","y":0.0435,"t":"\u03b5\u00a0\u00a0\u00a0:\u00a0\u00a0-2.75","s":"th"},
{"k":"t","p":"supersonic","v":"v3","y":0.0377,"t":"\u00a0\u00a0\u03c7\u0303\u00b2:\u00a0\u00a019.33","s":""},
{"k":"t","p":"supersonic","v":"v3","y":0.0314,"t":"p-value:\u00a0\u00a00.04","s":""},

{"k":"s","p":"sonic","v":"v2","t":"Sum\u00a0\u00a0\u03c7\u0303\u00b2: 12.28, p-val: 0.97"},
{"k":"s","p":"vishnu","v":"v2","t":"Sum\u00a0\u00a0\u03c7\u0303\u00b2: 32.71, p-val: 0.09"},
{"k":"s","p":"mstverr","v":"v2","t":"Sum\u00a0\u00a0\u03c7\u0303\u00b2: 930.35, p-val: 0.00"},
{"k":"s","p":"ampt","v":"v2","t":"Sum\u00a0\u00a0\u03c7\u0303\u00b2: 74.89, p-val: 0.00"},
{"k":"s","p":"supersonic","v":"v2","t":"Sum\u00a0\u00a0\u03c7\u0303\u00b2: 27.32, p-val: 0.24"},

{"k":"l","p":"sonic","v":"v2","it":"m","lab":"sonic","x1":1.45,"x2":1.74,"xm":1.595,"y":0.0629},
{"k":"l","p":"sonic","v":"v2","it":"n","lab":"sonic new","x1":1.45,"x2":1.74,"xm":1.595,"y":0.0512},
{"k":"l","p":"sonic","v":"v2","it":"d","lab":"pAu data","x1":1.45,"x2":1.74,"xm":1.595,"y":0.0379},
{"k":"l","p":"sonic","v":"v2","it":"o","lab":"pAu 'new data'","x1":1.45,"x2":1.74,"xm":1.595,"y":0.0257},
{"k":"l","p":"vishnu","v":"v2","it":"m","lab":"vishnu","x1":1.46,"x2":1.76,"xm":1.61,"y":0.0629},
{"k":"l","p":"vishnu","v":"v2","it":"n","lab":"vishnu new","x1":1.46,"x2":1.76,"xm":1.61,"y":0.0512},
{"k":"l","p":"vishnu","v":"v2","it":"d","lab":"pAu data","x1":1.46,"x2":1.76,"xm":1.61,"y":0.0379},
{"k":"l","p":"vishnu","v":"v2","it":"o","lab":"pAu 'new data'","x1":1.46,"x2":1.76,"xm":1.61,"y":0.0257},
{"k":"l","p":"mstverr","v":"v2","it":"m","lab":"mstverr","x1":0.775,"x2":0.946,"xm":0.86,"y":0.1686},
{"k":"l","p":"mstverr","v":"v2","it":"n","lab":"mstverr new","x1":0.775,"x2":0.946,"xm":0.86,"y":0.1568},
{"k":"l","p":"mstverr","v":"v2","it":"d","lab":"pAu data","x1":0.775,"x2":0.946,"xm":0.86,"y":0.143},
{"k":"l","p":"mstverr","v":"v2","it":"o","lab":"pAu 'new data'","x1":0.775,"x2":0.946,"xm":0.86,"y":0.1302},
{"k":"l","p":"ampt","v":"v2","it":"m","lab":"ampt","x1":0.76,"x2":0.93,"xm":0.845,"y":0.1695},
{"k":"l","p":"ampt","v":"v2","it":"n","lab":"ampt new","x1":0.76,"x2":0.93,"xm":0.845,"y":0.1562},
{"k":"l","p":"ampt","v":"v2","it":"d","lab":"pAu data","x1":0.76,"x2":0.93,"xm":0.845,"y":0.1434},
{"k":"l","p":"ampt","v":"v2","it":"o","lab":"pAu 'new data'","x1":0.76,"x2":0.93,"xm":0.845,"y":0.1301},
{"k":"l","p":"supersonic","v":"v2","it":"m","lab":"supersonic","x1":1.44,"x2":1.75,"xm":1.595,"y":0.0638},
{"k":"l","p":"supersonic","v":"v2","it":"n","lab":"supersonic new","x1":1.44,"x2":1.75,"xm":1.595,"y":0.0505},
{"k":"l","p":"supersonic","v":"v2","it":"d","lab":"pAu data","x1":1.44,"x2":1.75,"xm":1.595,"y":0.0372},
{"k":"l","p":"supersonic","v":"v2","it":"o","lab":"pAu 'new data'","x1":1.44,"x2":1.75,"xm":1.595,"y":0.0239}
]},
"data":{"name":"d"},
"spacing":9,"bounds":"full","center":true,
"vconcat":[
{"hconcat":[
{"vconcat":[
{"width":306,"height":271,"transform":[{"filter":"(datum.p==='sonic'||datum.p==='all')&&datum.v==='v2'"}],"layer":[
{"transform":[{"filter":"datum.k==='m'"}],"mark":{"type":"area","color":"#8c8c8c","clip":true},"encoding":{"x":{"field":"pt","type":"quantitative","scale":{"domain":[-0.3,3.2],"nice":false,"zero":false},"axis":{"orient":"bottom","values":[-0.2,-0.1,0,0.1,0.2,0.3,0.4,0.5,0.6,0.7,0.8,0.9,1,1.1,1.2,1.3,1.4,1.5,1.6,1.7,1.8,1.9,2,2.1,2.2,2.3,2.4,2.5,2.6,2.7,2.8,2.9,3,3.1],"labels":false,"title":null,"tickSize":{"condition":{"test":"abs(datum.value*2-round(datum.value*2))<0.001","value":-10},"value":-5}}},"y":{"field":"lo","type":"quantitative","scale":{"domain":[0,0.18],"nice":false},"axis":{"orient":"left","values":[0.004,0.008,0.012,0.016,0.02,0.024,0.028,0.032,0.036,0.04,0.044,0.048,0.052,0.056,0.06,0.064,0.068,0.072,0.076,0.08,0.084,0.088,0.092,0.096,0.1,0.104,0.108,0.112,0.116,0.12,0.124,0.128,0.132,0.136,0.14,0.144,0.148,0.152,0.156,0.16,0.164,0.168,0.172,0.176,0.18],"labelExpr":"datum.value>0.001&&abs(datum.value*50-round(datum.value*50))<0.001?toString(round(datum.value*100)/100):''","labelPadding":13,"title":"v\u2082","titlePadding":0,"tickSize":{"condition":{"test":"abs(datum.value*50-round(datum.value*50))<0.001","value":-10},"value":-5}}},"y2":{"field":"hi"}}},
{"transform":[{"filter":"datum.k==='d'"}],"mark":{"type":"bar","width":9,"color":"#0000ff","opacity":0.4},"encoding":{"x":{"field":"pt","type":"quantitative","axis":null},"y":{"field":"slo","type":"quantitative","axis":null},"y2":{"field":"shi"}}},
{"transform":[{"filter":"datum.k==='m'"}],"mark":{"type":"line","color":"#000000","strokeDash":[6,4],"strokeWidth":2,"clip":true},"encoding":{"x":{"field":"pt","type":"quantitative","axis":{"orient":"top","values":[-0.2,-0.1,0,0.1,0.2,0.3,0.4,0.5,0.6,0.7,0.8,0.9,1,1.1,1.2,1.3,1.4,1.5,1.6,1.7,1.8,1.9,2,2.1,2.2,2.3,2.4,2.5,2.6,2.7,2.8,2.9,3,3.1],"labels":false,"title":null,"tickSize":{"condition":{"test":"abs(datum.value*2-round(datum.value*2))<0.001","value":-10},"value":-5}}},"y":{"field":"mid","type":"quantitative","axis":{"orient":"right","values":[0.004,0.008,0.012,0.016,0.02,0.024,0.028,0.032,0.036,0.04,0.044,0.048,0.052,0.056,0.06,0.064,0.068,0.072,0.076,0.08,0.084,0.088,0.092,0.096,0.1,0.104,0.108,0.112,0.116,0.12,0.124,0.128,0.132,0.136,0.14,0.144,0.148,0.152,0.156,0.16,0.164,0.168,0.172,0.176],"labels":false,"title":null,"tickSize":{"condition":{"test":"abs(datum.value*50-round(datum.value*50))<0.001","value":-10},"value":-5}}}}},
{"transform":[{"filter":"datum.k==='m'"}],"mark":{"type":"line","color":"#ff9900","strokeWidth":2,"clip":true},"encoding":{"x":{"field":"pt","type":"quantitative","axis":null},"y":{"field":"nw","type":"quantitative","axis":null}}},
{"transform":[{"filter":"datum.k==='d'"}],"mark":{"type":"errorbar","ticks":true,"size":5,"color":"#0000ff","thickness":1.5},"encoding":{"x":{"field":"pt","type":"quantitative","axis":null},"y":{"field":"lo","type":"quantitative","axis":null},"y2":{"field":"hi"}}},
{"transform":[{"filter":"datum.k==='d'"}],"mark":{"type":"circle","color":"#0000ff","size":55,"opacity":1},"encoding":{"x":{"field":"pt","type":"quantitative","axis":null},"y":{"field":"val","type":"quantitative","axis":null}}},
{"transform":[{"filter":"datum.k==='o'"}],"mark":{"type":"errorbar","ticks":true,"size":5,"color":"#000000","thickness":1.5},"encoding":{"x":{"field":"pt","type":"quantitative","axis":null},"y":{"field":"lo","type":"quantitative","axis":null},"y2":{"field":"hi"}}},
{"transform":[{"filter":"datum.k==='o'"}],"mark":{"type":"point","color":"#000000","size":60,"strokeWidth":1.2,"opacity":1},"encoding":{"x":{"field":"pt","type":"quantitative","axis":null},"y":{"field":"val","type":"quantitative","axis":null}}},
{"transform":[{"filter":"datum.k==='t'"}],"mark":{"type":"text","align":"left","baseline":"middle","fontSize":13,"fontWeight":"bold"},"encoding":{"x":{"datum":-0.2,"type":"quantitative","axis":null},"y":{"field":"y","type":"quantitative","axis":null},"text":{"field":"t"}}},
{"transform":[{"filter":"datum.k==='t'"}],"mark":{"type":"text","align":"left","baseline":"middle","fontSize":9.5,"fontWeight":"bold","dx":8,"dy":4},"encoding":{"x":{"datum":-0.2,"type":"quantitative","axis":null},"y":{"field":"y","type":"quantitative","axis":null},"text":{"field":"s"}}},
{"transform":[{"filter":"datum.k==='s'"}],"mark":{"type":"text","align":"left","baseline":"middle","fontSize":18,"fontWeight":"bold","color":"#ff0000"},"encoding":{"x":{"datum":-0.3,"type":"quantitative","axis":null},"y":{"datum":0.013,"type":"quantitative","axis":null},"text":{"field":"t"}}},
{"transform":[{"filter":"datum.k==='l'&&datum.it==='m'"}],"mark":{"type":"rule","color":"#8c8c8c","strokeWidth":11},"encoding":{"x":{"field":"x1","type":"quantitative","axis":null},"x2":{"field":"x2"},"y":{"field":"y","type":"quantitative","axis":null}}},
{"transform":[{"filter":"datum.k==='l'"}],"mark":{"type":"rule","strokeWidth":2},"encoding":{"x":{"field":"x1","type":"quantitative","axis":null},"x2":{"field":"x2"},"y":{"field":"y","type":"quantitative","axis":null},"color":{"field":"it","type":"nominal","scale":{"domain":["m","n","d","o"],"range":["#000000","#ff9900","#0000ff","#000000"]},"legend":null},"strokeDash":{"field":"it","type":"nominal","scale":{"domain":["m","n","d","o"],"range":[[6,4],[1,0],[1,0],[1,0]]},"legend":null}}},
{"transform":[{"filter":"datum.k==='l'&&(datum.it==='d'||datum.it==='o')"}],"mark":{"type":"point","filled":true,"size":55,"strokeWidth":1.2,"opacity":1},"encoding":{"x":{"field":"xm","type":"quantitative","axis":null},"y":{"field":"y","type":"quantitative","axis":null},"fill":{"field":"it","type":"nominal","scale":{"domain":["d","o"],"range":["#0000ff","#ffffff"]},"legend":null},"stroke":{"field":"it","type":"nominal","scale":{"domain":["d","o"],"range":["#0000ff","#000000"]},"legend":null}}},
{"transform":[{"filter":"datum.k==='l'"}],"mark":{"type":"text","align":"left","baseline":"middle","fontSize":14,"dx":5},"encoding":{"x":{"field":"x2","type":"quantitative","axis":null},"y":{"field":"y","type":"quantitative","axis":null},"text":{"field":"lab"}}}
]},
{"width":306,"height":275,"transform":[{"filter":"(datum.p==='sonic'||datum.p==='all')&&datum.v==='v3'"}],"layer":[
{"transform":[{"filter":"datum.k==='m'"}],"mark":{"type":"area","color":"#8c8c8c","clip":true},"encoding":{"x":{"field":"pt","type":"quantitative","scale":{"domain":[-0.3,3.2],"nice":false,"zero":false},"axis":{"orient":"bottom","values":[-0.2,-0.1,0,0.1,0.2,0.3,0.4,0.5,0.6,0.7,0.8,0.9,1,1.1,1.2,1.3,1.4,1.5,1.6,1.7,1.8,1.9,2,2.1,2.2,2.3,2.4,2.5,2.6,2.7,2.8,2.9,3,3.1],"labelExpr":"datum.value>-0.05&&abs(datum.value*2-round(datum.value*2))<0.001?toString(round(datum.value*10)/10):''","labelPadding":12,"title":"p\u209c(GeV/c)","tickSize":{"condition":{"test":"abs(datum.value*2-round(datum.value*2))<0.001","value":-10},"value":-5}}},"y":{"field":"lo","type":"quantitative","scale":{"domain":[0,0.088],"nice":false},"axis":{"orient":"left","values":[0,0.002,0.004,0.006,0.008,0.01,0.012,0.014,0.016,0.018,0.02,0.022,0.024,0.026,0.028,0.03,0.032,0.034,0.036,0.038,0.04,0.042,0.044,0.046,0.048,0.05,0.052,0.054,0.056,0.058,0.06,0.062,0.064,0.066,0.068,0.07,0.072,0.074,0.076,0.078,0.08,0.082,0.084,0.086],"labelExpr":"abs(datum.value*100-round(datum.value*100))<0.001?toString(round(datum.value*100)/100):''","labelPadding":13,"title":"v\u2083","titlePadding":0,"tickSize":{"condition":{"test":"abs(datum.value*100-round(datum.value*100))<0.001","value":-10},"value":-5}}},"y2":{"field":"hi"}}},
{"transform":[{"filter":"datum.k==='d'"}],"mark":{"type":"bar","width":9,"color":"#0000ff","opacity":0.4},"encoding":{"x":{"field":"pt","type":"quantitative","axis":null},"y":{"field":"slo","type":"quantitative","axis":null},"y2":{"field":"shi"}}},
{"transform":[{"filter":"datum.k==='m'"}],"mark":{"type":"line","color":"#000000","strokeDash":[6,4],"strokeWidth":2,"clip":true},"encoding":{"x":{"field":"pt","type":"quantitative","axis":{"orient":"top","values":[-0.2,-0.1,0,0.1,0.2,0.3,0.4,0.5,0.6,0.7,0.8,0.9,1,1.1,1.2,1.3,1.4,1.5,1.6,1.7,1.8,1.9,2,2.1,2.2,2.3,2.4,2.5,2.6,2.7,2.8,2.9,3,3.1],"labels":false,"title":null,"tickSize":{"condition":{"test":"abs(datum.value*2-round(datum.value*2))<0.001","value":-10},"value":-5}}},"y":{"field":"mid","type":"quantitative","axis":{"orient":"right","values":[0.002,0.004,0.006,0.008,0.01,0.012,0.014,0.016,0.018,0.02,0.022,0.024,0.026,0.028,0.03,0.032,0.034,0.036,0.038,0.04,0.042,0.044,0.046,0.048,0.05,0.052,0.054,0.056,0.058,0.06,0.062,0.064,0.066,0.068,0.07,0.072,0.074,0.076,0.078,0.08,0.082,0.084,0.086],"labels":false,"title":null,"tickSize":{"condition":{"test":"abs(datum.value*100-round(datum.value*100))<0.001","value":-10},"value":-5}}}}},
{"transform":[{"filter":"datum.k==='m'"}],"mark":{"type":"line","color":"#ff9900","strokeWidth":2,"clip":true},"encoding":{"x":{"field":"pt","type":"quantitative","axis":null},"y":{"field":"nw","type":"quantitative","axis":null}}},
{"transform":[{"filter":"datum.k==='d'"}],"mark":{"type":"errorbar","ticks":true,"size":5,"color":"#0000ff","thickness":1.5},"encoding":{"x":{"field":"pt","type":"quantitative","axis":null},"y":{"field":"lo","type":"quantitative","axis":null},"y2":{"field":"hi"}}},
{"transform":[{"filter":"datum.k==='d'"}],"mark":{"type":"circle","color":"#0000ff","size":55,"opacity":1},"encoding":{"x":{"field":"pt","type":"quantitative","axis":null},"y":{"field":"val","type":"quantitative","axis":null}}},
{"transform":[{"filter":"datum.k==='o'"}],"mark":{"type":"errorbar","ticks":true,"size":5,"color":"#000000","thickness":1.5},"encoding":{"x":{"field":"pt","type":"quantitative","axis":null},"y":{"field":"lo","type":"quantitative","axis":null},"y2":{"field":"hi"}}},
{"transform":[{"filter":"datum.k==='o'"}],"mark":{"type":"point","color":"#000000","size":60,"strokeWidth":1.2,"opacity":1},"encoding":{"x":{"field":"pt","type":"quantitative","axis":null},"y":{"field":"val","type":"quantitative","axis":null}}},
{"transform":[{"filter":"datum.k==='t'"}],"mark":{"type":"text","align":"left","baseline":"middle","fontSize":14.5,"fontWeight":"bold"},"encoding":{"x":{"datum":-0.2,"type":"quantitative","axis":null},"y":{"field":"y","type":"quantitative","axis":null},"text":{"field":"t"}}},
{"transform":[{"filter":"datum.k==='t'"}],"mark":{"type":"text","align":"left","baseline":"middle","fontSize":10.5,"fontWeight":"bold","dx":9,"dy":4.5},"encoding":{"x":{"datum":-0.2,"type":"quantitative","axis":null},"y":{"field":"y","type":"quantitative","axis":null},"text":{"field":"s"}}}
]}
],"spacing":0,"bounds":"flush"},
{"vconcat":[
{"width":306,"height":271,"transform":[{"filter":"(datum.p==='vishnu'||datum.p==='all')&&datum.v==='v2'"}],"layer":[
{"transform":[{"filter":"datum.k==='m'"}],"mark":{"type":"area","color":"#8c8c8c","clip":true},"encoding":{"x":{"field":"pt","type":"quantitative","scale":{"domain":[-0.3,3.2],"nice":false,"zero":false},"axis":{"orient":"bottom","values":[-0.2,-0.1,0,0.1,0.2,0.3,0.4,0.5,0.6,0.7,0.8,0.9,1,1.1,1.2,1.3,1.4,1.5,1.6,1.7,1.8,1.9,2,2.1,2.2,2.3,2.4,2.5,2.6,2.7,2.8,2.9,3,3.1],"labels":false,"title":null,"tickSize":{"condition":{"test":"abs(datum.value*2-round(datum.value*2))<0.001","value":-10},"value":-5}}},"y":{"field":"lo","type":"quantitative","scale":{"domain":[0,0.18],"nice":false},"axis":{"orient":"left","values":[0.004,0.008,0.012,0.016,0.02,0.024,0.028,0.032,0.036,0.04,0.044,0.048,0.052,0.056,0.06,0.064,0.068,0.072,0.076,0.08,0.084,0.088,0.092,0.096,0.1,0.104,0.108,0.112,0.116,0.12,0.124,0.128,0.132,0.136,0.14,0.144,0.148,0.152,0.156,0.16,0.164,0.168,0.172,0.176,0.18],"labelExpr":"datum.value>0.001&&abs(datum.value*50-round(datum.value*50))<0.001?toString(round(datum.value*100)/100):''","labelPadding":13,"title":"v\u2082","titlePadding":0,"tickSize":{"condition":{"test":"abs(datum.value*50-round(datum.value*50))<0.001","value":-10},"value":-5}}},"y2":{"field":"hi"}}},
{"transform":[{"filter":"datum.k==='d'"}],"mark":{"type":"bar","width":9,"color":"#0000ff","opacity":0.4},"encoding":{"x":{"field":"pt","type":"quantitative","axis":null},"y":{"field":"slo","type":"quantitative","axis":null},"y2":{"field":"shi"}}},
{"transform":[{"filter":"datum.k==='m'"}],"mark":{"type":"line","color":"#000000","strokeDash":[6,4],"strokeWidth":2,"clip":true},"encoding":{"x":{"field":"pt","type":"quantitative","axis":{"orient":"top","values":[-0.2,-0.1,0,0.1,0.2,0.3,0.4,0.5,0.6,0.7,0.8,0.9,1,1.1,1.2,1.3,1.4,1.5,1.6,1.7,1.8,1.9,2,2.1,2.2,2.3,2.4,2.5,2.6,2.7,2.8,2.9,3,3.1],"labels":false,"title":null,"tickSize":{"condition":{"test":"abs(datum.value*2-round(datum.value*2))<0.001","value":-10},"value":-5}}},"y":{"field":"mid","type":"quantitative","axis":{"orient":"right","values":[0.004,0.008,0.012,0.016,0.02,0.024,0.028,0.032,0.036,0.04,0.044,0.048,0.052,0.056,0.06,0.064,0.068,0.072,0.076,0.08,0.084,0.088,0.092,0.096,0.1,0.104,0.108,0.112,0.116,0.12,0.124,0.128,0.132,0.136,0.14,0.144,0.148,0.152,0.156,0.16,0.164,0.168,0.172,0.176],"labels":false,"title":null,"tickSize":{"condition":{"test":"abs(datum.value*50-round(datum.value*50))<0.001","value":-10},"value":-5}}}}},
{"transform":[{"filter":"datum.k==='m'"}],"mark":{"type":"line","color":"#ff9900","strokeWidth":2,"clip":true},"encoding":{"x":{"field":"pt","type":"quantitative","axis":null},"y":{"field":"nw","type":"quantitative","axis":null}}},
{"transform":[{"filter":"datum.k==='d'"}],"mark":{"type":"errorbar","ticks":true,"size":5,"color":"#0000ff","thickness":1.5},"encoding":{"x":{"field":"pt","type":"quantitative","axis":null},"y":{"field":"lo","type":"quantitative","axis":null},"y2":{"field":"hi"}}},
{"transform":[{"filter":"datum.k==='d'"}],"mark":{"type":"circle","color":"#0000ff","size":55,"opacity":1},"encoding":{"x":{"field":"pt","type":"quantitative","axis":null},"y":{"field":"val","type":"quantitative","axis":null}}},
{"transform":[{"filter":"datum.k==='o'"}],"mark":{"type":"errorbar","ticks":true,"size":5,"color":"#000000","thickness":1.5},"encoding":{"x":{"field":"pt","type":"quantitative","axis":null},"y":{"field":"lo","type":"quantitative","axis":null},"y2":{"field":"hi"}}},
{"transform":[{"filter":"datum.k==='o'"}],"mark":{"type":"point","color":"#000000","size":60,"strokeWidth":1.2,"opacity":1},"encoding":{"x":{"field":"pt","type":"quantitative","axis":null},"y":{"field":"val","type":"quantitative","axis":null}}},
{"transform":[{"filter":"datum.k==='t'"}],"mark":{"type":"text","align":"left","baseline":"middle","fontSize":13,"fontWeight":"bold"},"encoding":{"x":{"datum":-0.2,"type":"quantitative","axis":null},"y":{"field":"y","type":"quantitative","axis":null},"text":{"field":"t"}}},
{"transform":[{"filter":"datum.k==='t'"}],"mark":{"type":"text","align":"left","baseline":"middle","fontSize":9.5,"fontWeight":"bold","dx":8,"dy":4},"encoding":{"x":{"datum":-0.2,"type":"quantitative","axis":null},"y":{"field":"y","type":"quantitative","axis":null},"text":{"field":"s"}}},
{"transform":[{"filter":"datum.k==='s'"}],"mark":{"type":"text","align":"left","baseline":"middle","fontSize":18,"fontWeight":"bold","color":"#ff0000"},"encoding":{"x":{"datum":-0.3,"type":"quantitative","axis":null},"y":{"datum":0.013,"type":"quantitative","axis":null},"text":{"field":"t"}}},
{"transform":[{"filter":"datum.k==='l'&&datum.it==='m'"}],"mark":{"type":"rule","color":"#8c8c8c","strokeWidth":11},"encoding":{"x":{"field":"x1","type":"quantitative","axis":null},"x2":{"field":"x2"},"y":{"field":"y","type":"quantitative","axis":null}}},
{"transform":[{"filter":"datum.k==='l'"}],"mark":{"type":"rule","strokeWidth":2},"encoding":{"x":{"field":"x1","type":"quantitative","axis":null},"x2":{"field":"x2"},"y":{"field":"y","type":"quantitative","axis":null},"color":{"field":"it","type":"nominal","scale":{"domain":["m","n","d","o"],"range":["#000000","#ff9900","#0000ff","#000000"]},"legend":null},"strokeDash":{"field":"it","type":"nominal","scale":{"domain":["m","n","d","o"],"range":[[6,4],[1,0],[1,0],[1,0]]},"legend":null}}},
{"transform":[{"filter":"datum.k==='l'&&(datum.it==='d'||datum.it==='o')"}],"mark":{"type":"point","filled":true,"size":55,"strokeWidth":1.2,"opacity":1},"encoding":{"x":{"field":"xm","type":"quantitative","axis":null},"y":{"field":"y","type":"quantitative","axis":null},"fill":{"field":"it","type":"nominal","scale":{"domain":["d","o"],"range":["#0000ff","#ffffff"]},"legend":null},"stroke":{"field":"it","type":"nominal","scale":{"domain":["d","o"],"range":["#0000ff","#000000"]},"legend":null}}},
{"transform":[{"filter":"datum.k==='l'"}],"mark":{"type":"text","align":"left","baseline":"middle","fontSize":14,"dx":5},"encoding":{"x":{"field":"x2","type":"quantitative","axis":null},"y":{"field":"y","type":"quantitative","axis":null},"text":{"field":"lab"}}}
]},
{"width":306,"height":275,"transform":[{"filter":"(datum.p==='vishnu'||datum.p==='all')&&datum.v==='v3'"}],"layer":[
{"transform":[{"filter":"datum.k==='m'"}],"mark":{"type":"area","color":"#8c8c8c","clip":true},"encoding":{"x":{"field":"pt","type":"quantitative","scale":{"domain":[-0.3,3.2],"nice":false,"zero":false},"axis":{"orient":"bottom","values":[-0.2,-0.1,0,0.1,0.2,0.3,0.4,0.5,0.6,0.7,0.8,0.9,1,1.1,1.2,1.3,1.4,1.5,1.6,1.7,1.8,1.9,2,2.1,2.2,2.3,2.4,2.5,2.6,2.7,2.8,2.9,3,3.1],"labelExpr":"datum.value>-0.05&&abs(datum.value*2-round(datum.value*2))<0.001?toString(round(datum.value*10)/10):''","labelPadding":12,"title":"p\u209c(GeV/c)","tickSize":{"condition":{"test":"abs(datum.value*2-round(datum.value*2))<0.001","value":-10},"value":-5}}},"y":{"field":"lo","type":"quantitative","scale":{"domain":[0,0.088],"nice":false},"axis":{"orient":"left","values":[0,0.002,0.004,0.006,0.008,0.01,0.012,0.014,0.016,0.018,0.02,0.022,0.024,0.026,0.028,0.03,0.032,0.034,0.036,0.038,0.04,0.042,0.044,0.046,0.048,0.05,0.052,0.054,0.056,0.058,0.06,0.062,0.064,0.066,0.068,0.07,0.072,0.074,0.076,0.078,0.08,0.082,0.084,0.086],"labelExpr":"abs(datum.value*100-round(datum.value*100))<0.001?toString(round(datum.value*100)/100):''","labelPadding":13,"title":"v\u2083","titlePadding":0,"tickSize":{"condition":{"test":"abs(datum.value*100-round(datum.value*100))<0.001","value":-10},"value":-5}}},"y2":{"field":"hi"}}},
{"transform":[{"filter":"datum.k==='d'"}],"mark":{"type":"bar","width":9,"color":"#0000ff","opacity":0.4},"encoding":{"x":{"field":"pt","type":"quantitative","axis":null},"y":{"field":"slo","type":"quantitative","axis":null},"y2":{"field":"shi"}}},
{"transform":[{"filter":"datum.k==='m'"}],"mark":{"type":"line","color":"#000000","strokeDash":[6,4],"strokeWidth":2,"clip":true},"encoding":{"x":{"field":"pt","type":"quantitative","axis":{"orient":"top","values":[-0.2,-0.1,0,0.1,0.2,0.3,0.4,0.5,0.6,0.7,0.8,0.9,1,1.1,1.2,1.3,1.4,1.5,1.6,1.7,1.8,1.9,2,2.1,2.2,2.3,2.4,2.5,2.6,2.7,2.8,2.9,3,3.1],"labels":false,"title":null,"tickSize":{"condition":{"test":"abs(datum.value*2-round(datum.value*2))<0.001","value":-10},"value":-5}}},"y":{"field":"mid","type":"quantitative","axis":{"orient":"right","values":[0.002,0.004,0.006,0.008,0.01,0.012,0.014,0.016,0.018,0.02,0.022,0.024,0.026,0.028,0.03,0.032,0.034,0.036,0.038,0.04,0.042,0.044,0.046,0.048,0.05,0.052,0.054,0.056,0.058,0.06,0.062,0.064,0.066,0.068,0.07,0.072,0.074,0.076,0.078,0.08,0.082,0.084,0.086],"labels":false,"title":null,"tickSize":{"condition":{"test":"abs(datum.value*100-round(datum.value*100))<0.001","value":-10},"value":-5}}}}},
{"transform":[{"filter":"datum.k==='m'"}],"mark":{"type":"line","color":"#ff9900","strokeWidth":2,"clip":true},"encoding":{"x":{"field":"pt","type":"quantitative","axis":null},"y":{"field":"nw","type":"quantitative","axis":null}}},
{"transform":[{"filter":"datum.k==='d'"}],"mark":{"type":"errorbar","ticks":true,"size":5,"color":"#0000ff","thickness":1.5},"encoding":{"x":{"field":"pt","type":"quantitative","axis":null},"y":{"field":"lo","type":"quantitative","axis":null},"y2":{"field":"hi"}}},
{"transform":[{"filter":"datum.k==='d'"}],"mark":{"type":"circle","color":"#0000ff","size":55,"opacity":1},"encoding":{"x":{"field":"pt","type":"quantitative","axis":null},"y":{"field":"val","type":"quantitative","axis":null}}},
{"transform":[{"filter":"datum.k==='o'"}],"mark":{"type":"errorbar","ticks":true,"size":5,"color":"#000000","thickness":1.5},"encoding":{"x":{"field":"pt","type":"quantitative","axis":null},"y":{"field":"lo","type":"quantitative","axis":null},"y2":{"field":"hi"}}},
{"transform":[{"filter":"datum.k==='o'"}],"mark":{"type":"point","color":"#000000","size":60,"strokeWidth":1.2,"opacity":1},"encoding":{"x":{"field":"pt","type":"quantitative","axis":null},"y":{"field":"val","type":"quantitative","axis":null}}},
{"transform":[{"filter":"datum.k==='t'"}],"mark":{"type":"text","align":"left","baseline":"middle","fontSize":14.5,"fontWeight":"bold"},"encoding":{"x":{"datum":-0.2,"type":"quantitative","axis":null},"y":{"field":"y","type":"quantitative","axis":null},"text":{"field":"t"}}},
{"transform":[{"filter":"datum.k==='t'"}],"mark":{"type":"text","align":"left","baseline":"middle","fontSize":10.5,"fontWeight":"bold","dx":9,"dy":4.5},"encoding":{"x":{"datum":-0.2,"type":"quantitative","axis":null},"y":{"field":"y","type":"quantitative","axis":null},"text":{"field":"s"}}}
]}
],"spacing":0,"bounds":"flush"},
{"vconcat":[
{"width":306,"height":271,"transform":[{"filter":"(datum.p==='mstverr'||datum.p==='all')&&datum.v==='v2'"}],"layer":[
{"transform":[{"filter":"datum.k==='m'"}],"mark":{"type":"area","color":"#8c8c8c","clip":true},"encoding":{"x":{"field":"pt","type":"quantitative","scale":{"domain":[-0.3,3.2],"nice":false,"zero":false},"axis":{"orient":"bottom","values":[-0.2,-0.1,0,0.1,0.2,0.3,0.4,0.5,0.6,0.7,0.8,0.9,1,1.1,1.2,1.3,1.4,1.5,1.6,1.7,1.8,1.9,2,2.1,2.2,2.3,2.4,2.5,2.6,2.7,2.8,2.9,3,3.1],"labels":false,"title":null,"tickSize":{"condition":{"test":"abs(datum.value*2-round(datum.value*2))<0.001","value":-10},"value":-5}}},"y":{"field":"lo","type":"quantitative","scale":{"domain":[0,0.18],"nice":false},"axis":{"orient":"left","values":[0.004,0.008,0.012,0.016,0.02,0.024,0.028,0.032,0.036,0.04,0.044,0.048,0.052,0.056,0.06,0.064,0.068,0.072,0.076,0.08,0.084,0.088,0.092,0.096,0.1,0.104,0.108,0.112,0.116,0.12,0.124,0.128,0.132,0.136,0.14,0.144,0.148,0.152,0.156,0.16,0.164,0.168,0.172,0.176,0.18],"labelExpr":"datum.value>0.001&&abs(datum.value*50-round(datum.value*50))<0.001?toString(round(datum.value*100)/100):''","labelPadding":13,"title":"v\u2082","titlePadding":0,"tickSize":{"condition":{"test":"abs(datum.value*50-round(datum.value*50))<0.001","value":-10},"value":-5}}},"y2":{"field":"hi"}}},
{"transform":[{"filter":"datum.k==='d'"}],"mark":{"type":"bar","width":9,"color":"#0000ff","opacity":0.4},"encoding":{"x":{"field":"pt","type":"quantitative","axis":null},"y":{"field":"slo","type":"quantitative","axis":null},"y2":{"field":"shi"}}},
{"transform":[{"filter":"datum.k==='m'"}],"mark":{"type":"line","color":"#000000","strokeDash":[6,4],"strokeWidth":2,"clip":true},"encoding":{"x":{"field":"pt","type":"quantitative","axis":{"orient":"top","values":[-0.2,-0.1,0,0.1,0.2,0.3,0.4,0.5,0.6,0.7,0.8,0.9,1,1.1,1.2,1.3,1.4,1.5,1.6,1.7,1.8,1.9,2,2.1,2.2,2.3,2.4,2.5,2.6,2.7,2.8,2.9,3,3.1],"labels":false,"title":null,"tickSize":{"condition":{"test":"abs(datum.value*2-round(datum.value*2))<0.001","value":-10},"value":-5}}},"y":{"field":"mid","type":"quantitative","axis":{"orient":"right","values":[0.004,0.008,0.012,0.016,0.02,0.024,0.028,0.032,0.036,0.04,0.044,0.048,0.052,0.056,0.06,0.064,0.068,0.072,0.076,0.08,0.084,0.088,0.092,0.096,0.1,0.104,0.108,0.112,0.116,0.12,0.124,0.128,0.132,0.136,0.14,0.144,0.148,0.152,0.156,0.16,0.164,0.168,0.172,0.176],"labels":false,"title":null,"tickSize":{"condition":{"test":"abs(datum.value*50-round(datum.value*50))<0.001","value":-10},"value":-5}}}}},
{"transform":[{"filter":"datum.k==='m'"}],"mark":{"type":"line","color":"#ff9900","strokeWidth":2,"clip":true},"encoding":{"x":{"field":"pt","type":"quantitative","axis":null},"y":{"field":"nw","type":"quantitative","axis":null}}},
{"transform":[{"filter":"datum.k==='d'"}],"mark":{"type":"errorbar","ticks":true,"size":5,"color":"#0000ff","thickness":1.5},"encoding":{"x":{"field":"pt","type":"quantitative","axis":null},"y":{"field":"lo","type":"quantitative","axis":null},"y2":{"field":"hi"}}},
{"transform":[{"filter":"datum.k==='d'"}],"mark":{"type":"circle","color":"#0000ff","size":55,"opacity":1},"encoding":{"x":{"field":"pt","type":"quantitative","axis":null},"y":{"field":"val","type":"quantitative","axis":null}}},
{"transform":[{"filter":"datum.k==='o'"}],"mark":{"type":"errorbar","ticks":true,"size":5,"color":"#000000","thickness":1.5},"encoding":{"x":{"field":"pt","type":"quantitative","axis":null},"y":{"field":"lo","type":"quantitative","axis":null},"y2":{"field":"hi"}}},
{"transform":[{"filter":"datum.k==='o'"}],"mark":{"type":"point","color":"#000000","size":60,"strokeWidth":1.2,"opacity":1},"encoding":{"x":{"field":"pt","type":"quantitative","axis":null},"y":{"field":"val","type":"quantitative","axis":null}}},
{"transform":[{"filter":"datum.k==='t'"}],"mark":{"type":"text","align":"left","baseline":"middle","fontSize":13,"fontWeight":"bold"},"encoding":{"x":{"datum":-0.2,"type":"quantitative","axis":null},"y":{"field":"y","type":"quantitative","axis":null},"text":{"field":"t"}}},
{"transform":[{"filter":"datum.k==='t'"}],"mark":{"type":"text","align":"left","baseline":"middle","fontSize":9.5,"fontWeight":"bold","dx":8,"dy":4},"encoding":{"x":{"datum":-0.2,"type":"quantitative","axis":null},"y":{"field":"y","type":"quantitative","axis":null},"text":{"field":"s"}}},
{"transform":[{"filter":"datum.k==='s'"}],"mark":{"type":"text","align":"left","baseline":"middle","fontSize":18,"fontWeight":"bold","color":"#ff0000"},"encoding":{"x":{"datum":-0.3,"type":"quantitative","axis":null},"y":{"datum":0.013,"type":"quantitative","axis":null},"text":{"field":"t"}}},
{"transform":[{"filter":"datum.k==='l'&&datum.it==='m'"}],"mark":{"type":"rule","color":"#8c8c8c","strokeWidth":11},"encoding":{"x":{"field":"x1","type":"quantitative","axis":null},"x2":{"field":"x2"},"y":{"field":"y","type":"quantitative","axis":null}}},
{"transform":[{"filter":"datum.k==='l'"}],"mark":{"type":"rule","strokeWidth":2},"encoding":{"x":{"field":"x1","type":"quantitative","axis":null},"x2":{"field":"x2"},"y":{"field":"y","type":"quantitative","axis":null},"color":{"field":"it","type":"nominal","scale":{"domain":["m","n","d","o"],"range":["#000000","#ff9900","#0000ff","#000000"]},"legend":null},"strokeDash":{"field":"it","type":"nominal","scale":{"domain":["m","n","d","o"],"range":[[6,4],[1,0],[1,0],[1,0]]},"legend":null}}},
{"transform":[{"filter":"datum.k==='l'&&(datum.it==='d'||datum.it==='o')"}],"mark":{"type":"point","filled":true,"size":55,"strokeWidth":1.2,"opacity":1},"encoding":{"x":{"field":"xm","type":"quantitative","axis":null},"y":{"field":"y","type":"quantitative","axis":null},"fill":{"field":"it","type":"nominal","scale":{"domain":["d","o"],"range":["#0000ff","#ffffff"]},"legend":null},"stroke":{"field":"it","type":"nominal","scale":{"domain":["d","o"],"range":["#0000ff","#000000"]},"legend":null}}},
{"transform":[{"filter":"datum.k==='l'"}],"mark":{"type":"text","align":"left","baseline":"middle","fontSize":14,"dx":5},"encoding":{"x":{"field":"x2","type":"quantitative","axis":null},"y":{"field":"y","type":"quantitative","axis":null},"text":{"field":"lab"}}}
]},
{"width":306,"height":275,"transform":[{"filter":"(datum.p==='mstverr'||datum.p==='all')&&datum.v==='v3'"}],"layer":[
{"transform":[{"filter":"datum.k==='m'"}],"mark":{"type":"area","color":"#8c8c8c","clip":true},"encoding":{"x":{"field":"pt","type":"quantitative","scale":{"domain":[-0.3,3.2],"nice":false,"zero":false},"axis":{"orient":"bottom","values":[-0.2,-0.1,0,0.1,0.2,0.3,0.4,0.5,0.6,0.7,0.8,0.9,1,1.1,1.2,1.3,1.4,1.5,1.6,1.7,1.8,1.9,2,2.1,2.2,2.3,2.4,2.5,2.6,2.7,2.8,2.9,3,3.1],"labelExpr":"datum.value>-0.05&&abs(datum.value*2-round(datum.value*2))<0.001?toString(round(datum.value*10)/10):''","labelPadding":12,"title":"p\u209c(GeV/c)","tickSize":{"condition":{"test":"abs(datum.value*2-round(datum.value*2))<0.001","value":-10},"value":-5}}},"y":{"field":"lo","type":"quantitative","scale":{"domain":[0,0.088],"nice":false},"axis":{"orient":"left","values":[0,0.002,0.004,0.006,0.008,0.01,0.012,0.014,0.016,0.018,0.02,0.022,0.024,0.026,0.028,0.03,0.032,0.034,0.036,0.038,0.04,0.042,0.044,0.046,0.048,0.05,0.052,0.054,0.056,0.058,0.06,0.062,0.064,0.066,0.068,0.07,0.072,0.074,0.076,0.078,0.08,0.082,0.084,0.086],"labelExpr":"abs(datum.value*100-round(datum.value*100))<0.001?toString(round(datum.value*100)/100):''","labelPadding":13,"title":"v\u2083","titlePadding":0,"tickSize":{"condition":{"test":"abs(datum.value*100-round(datum.value*100))<0.001","value":-10},"value":-5}}},"y2":{"field":"hi"}}},
{"transform":[{"filter":"datum.k==='d'"}],"mark":{"type":"bar","width":9,"color":"#0000ff","opacity":0.4},"encoding":{"x":{"field":"pt","type":"quantitative","axis":null},"y":{"field":"slo","type":"quantitative","axis":null},"y2":{"field":"shi"}}},
{"transform":[{"filter":"datum.k==='m'"}],"mark":{"type":"line","color":"#000000","strokeDash":[6,4],"strokeWidth":2,"clip":true},"encoding":{"x":{"field":"pt","type":"quantitative","axis":{"orient":"top","values":[-0.2,-0.1,0,0.1,0.2,0.3,0.4,0.5,0.6,0.7,0.8,0.9,1,1.1,1.2,1.3,1.4,1.5,1.6,1.7,1.8,1.9,2,2.1,2.2,2.3,2.4,2.5,2.6,2.7,2.8,2.9,3,3.1],"labels":false,"title":null,"tickSize":{"condition":{"test":"abs(datum.value*2-round(datum.value*2))<0.001","value":-10},"value":-5}}},"y":{"field":"mid","type":"quantitative","axis":{"orient":"right","values":[0.002,0.004,0.006,0.008,0.01,0.012,0.014,0.016,0.018,0.02,0.022,0.024,0.026,0.028,0.03,0.032,0.034,0.036,0.038,0.04,0.042,0.044,0.046,0.048,0.05,0.052,0.054,0.056,0.058,0.06,0.062,0.064,0.066,0.068,0.07,0.072,0.074,0.076,0.078,0.08,0.082,0.084,0.086],"labels":false,"title":null,"tickSize":{"condition":{"test":"abs(datum.value*100-round(datum.value*100))<0.001","value":-10},"value":-5}}}}},
{"transform":[{"filter":"datum.k==='m'"}],"mark":{"type":"line","color":"#ff9900","strokeWidth":2,"clip":true},"encoding":{"x":{"field":"pt","type":"quantitative","axis":null},"y":{"field":"nw","type":"quantitative","axis":null}}},
{"transform":[{"filter":"datum.k==='d'"}],"mark":{"type":"errorbar","ticks":true,"size":5,"color":"#0000ff","thickness":1.5},"encoding":{"x":{"field":"pt","type":"quantitative","axis":null},"y":{"field":"lo","type":"quantitative","axis":null},"y2":{"field":"hi"}}},
{"transform":[{"filter":"datum.k==='d'"}],"mark":{"type":"circle","color":"#0000ff","size":55,"opacity":1},"encoding":{"x":{"field":"pt","type":"quantitative","axis":null},"y":{"field":"val","type":"quantitative","axis":null}}},
{"transform":[{"filter":"datum.k==='o'"}],"mark":{"type":"errorbar","ticks":true,"size":5,"color":"#000000","thickness":1.5},"encoding":{"x":{"field":"pt","type":"quantitative","axis":null},"y":{"field":"lo","type":"quantitative","axis":null},"y2":{"field":"hi"}}},
{"transform":[{"filter":"datum.k==='o'"}],"mark":{"type":"point","color":"#000000","size":60,"strokeWidth":1.2,"opacity":1},"encoding":{"x":{"field":"pt","type":"quantitative","axis":null},"y":{"field":"val","type":"quantitative","axis":null}}},
{"transform":[{"filter":"datum.k==='t'"}],"mark":{"type":"text","align":"left","baseline":"middle","fontSize":14.5,"fontWeight":"bold"},"encoding":{"x":{"datum":-0.2,"type":"quantitative","axis":null},"y":{"field":"y","type":"quantitative","axis":null},"text":{"field":"t"}}},
{"transform":[{"filter":"datum.k==='t'"}],"mark":{"type":"text","align":"left","baseline":"middle","fontSize":10.5,"fontWeight":"bold","dx":9,"dy":4.5},"encoding":{"x":{"datum":-0.2,"type":"quantitative","axis":null},"y":{"field":"y","type":"quantitative","axis":null},"text":{"field":"s"}}}
]}
],"spacing":0,"bounds":"flush"}
],"spacing":15,"bounds":"full"},
{"hconcat":[
{"vconcat":[
{"width":306,"height":271,"transform":[{"filter":"(datum.p==='ampt'||datum.p==='all')&&datum.v==='v2'"}],"layer":[
{"transform":[{"filter":"datum.k==='m'"}],"mark":{"type":"area","color":"#8c8c8c","clip":true},"encoding":{"x":{"field":"pt","type":"quantitative","scale":{"domain":[-0.3,3.2],"nice":false,"zero":false},"axis":{"orient":"bottom","values":[-0.2,-0.1,0,0.1,0.2,0.3,0.4,0.5,0.6,0.7,0.8,0.9,1,1.1,1.2,1.3,1.4,1.5,1.6,1.7,1.8,1.9,2,2.1,2.2,2.3,2.4,2.5,2.6,2.7,2.8,2.9,3,3.1],"labels":false,"title":null,"tickSize":{"condition":{"test":"abs(datum.value*2-round(datum.value*2))<0.001","value":-10},"value":-5}}},"y":{"field":"lo","type":"quantitative","scale":{"domain":[0,0.18],"nice":false},"axis":{"orient":"left","values":[0.004,0.008,0.012,0.016,0.02,0.024,0.028,0.032,0.036,0.04,0.044,0.048,0.052,0.056,0.06,0.064,0.068,0.072,0.076,0.08,0.084,0.088,0.092,0.096,0.1,0.104,0.108,0.112,0.116,0.12,0.124,0.128,0.132,0.136,0.14,0.144,0.148,0.152,0.156,0.16,0.164,0.168,0.172,0.176,0.18],"labelExpr":"datum.value>0.001&&abs(datum.value*50-round(datum.value*50))<0.001?toString(round(datum.value*100)/100):''","labelPadding":13,"title":"v\u2082","titlePadding":0,"tickSize":{"condition":{"test":"abs(datum.value*50-round(datum.value*50))<0.001","value":-10},"value":-5}}},"y2":{"field":"hi"}}},
{"transform":[{"filter":"datum.k==='d'"}],"mark":{"type":"bar","width":9,"color":"#0000ff","opacity":0.4},"encoding":{"x":{"field":"pt","type":"quantitative","axis":null},"y":{"field":"slo","type":"quantitative","axis":null},"y2":{"field":"shi"}}},
{"transform":[{"filter":"datum.k==='m'"}],"mark":{"type":"line","color":"#000000","strokeDash":[6,4],"strokeWidth":2,"clip":true},"encoding":{"x":{"field":"pt","type":"quantitative","axis":{"orient":"top","values":[-0.2,-0.1,0,0.1,0.2,0.3,0.4,0.5,0.6,0.7,0.8,0.9,1,1.1,1.2,1.3,1.4,1.5,1.6,1.7,1.8,1.9,2,2.1,2.2,2.3,2.4,2.5,2.6,2.7,2.8,2.9,3,3.1],"labels":false,"title":null,"tickSize":{"condition":{"test":"abs(datum.value*2-round(datum.value*2))<0.001","value":-10},"value":-5}}},"y":{"field":"mid","type":"quantitative","axis":{"orient":"right","values":[0.004,0.008,0.012,0.016,0.02,0.024,0.028,0.032,0.036,0.04,0.044,0.048,0.052,0.056,0.06,0.064,0.068,0.072,0.076,0.08,0.084,0.088,0.092,0.096,0.1,0.104,0.108,0.112,0.116,0.12,0.124,0.128,0.132,0.136,0.14,0.144,0.148,0.152,0.156,0.16,0.164,0.168,0.172,0.176],"labels":false,"title":null,"tickSize":{"condition":{"test":"abs(datum.value*50-round(datum.value*50))<0.001","value":-10},"value":-5}}}}},
{"transform":[{"filter":"datum.k==='m'"}],"mark":{"type":"line","color":"#ff9900","strokeWidth":2,"clip":true},"encoding":{"x":{"field":"pt","type":"quantitative","axis":null},"y":{"field":"nw","type":"quantitative","axis":null}}},
{"transform":[{"filter":"datum.k==='d'"}],"mark":{"type":"errorbar","ticks":true,"size":5,"color":"#0000ff","thickness":1.5},"encoding":{"x":{"field":"pt","type":"quantitative","axis":null},"y":{"field":"lo","type":"quantitative","axis":null},"y2":{"field":"hi"}}},
{"transform":[{"filter":"datum.k==='d'"}],"mark":{"type":"circle","color":"#0000ff","size":55,"opacity":1},"encoding":{"x":{"field":"pt","type":"quantitative","axis":null},"y":{"field":"val","type":"quantitative","axis":null}}},
{"transform":[{"filter":"datum.k==='o'"}],"mark":{"type":"errorbar","ticks":true,"size":5,"color":"#000000","thickness":1.5},"encoding":{"x":{"field":"pt","type":"quantitative","axis":null},"y":{"field":"lo","type":"quantitative","axis":null},"y2":{"field":"hi"}}},
{"transform":[{"filter":"datum.k==='o'"}],"mark":{"type":"point","color":"#000000","size":60,"strokeWidth":1.2,"opacity":1},"encoding":{"x":{"field":"pt","type":"quantitative","axis":null},"y":{"field":"val","type":"quantitative","axis":null}}},
{"transform":[{"filter":"datum.k==='t'"}],"mark":{"type":"text","align":"left","baseline":"middle","fontSize":13,"fontWeight":"bold"},"encoding":{"x":{"datum":-0.2,"type":"quantitative","axis":null},"y":{"field":"y","type":"quantitative","axis":null},"text":{"field":"t"}}},
{"transform":[{"filter":"datum.k==='t'"}],"mark":{"type":"text","align":"left","baseline":"middle","fontSize":9.5,"fontWeight":"bold","dx":8,"dy":4},"encoding":{"x":{"datum":-0.2,"type":"quantitative","axis":null},"y":{"field":"y","type":"quantitative","axis":null},"text":{"field":"s"}}},
{"transform":[{"filter":"datum.k==='s'"}],"mark":{"type":"text","align":"left","baseline":"middle","fontSize":18,"fontWeight":"bold","color":"#ff0000"},"encoding":{"x":{"datum":-0.3,"type":"quantitative","axis":null},"y":{"datum":0.013,"type":"quantitative","axis":null},"text":{"field":"t"}}},
{"transform":[{"filter":"datum.k==='l'&&datum.it==='m'"}],"mark":{"type":"rule","color":"#8c8c8c","strokeWidth":11},"encoding":{"x":{"field":"x1","type":"quantitative","axis":null},"x2":{"field":"x2"},"y":{"field":"y","type":"quantitative","axis":null}}},
{"transform":[{"filter":"datum.k==='l'"}],"mark":{"type":"rule","strokeWidth":2},"encoding":{"x":{"field":"x1","type":"quantitative","axis":null},"x2":{"field":"x2"},"y":{"field":"y","type":"quantitative","axis":null},"color":{"field":"it","type":"nominal","scale":{"domain":["m","n","d","o"],"range":["#000000","#ff9900","#0000ff","#000000"]},"legend":null},"strokeDash":{"field":"it","type":"nominal","scale":{"domain":["m","n","d","o"],"range":[[6,4],[1,0],[1,0],[1,0]]},"legend":null}}},
{"transform":[{"filter":"datum.k==='l'&&(datum.it==='d'||datum.it==='o')"}],"mark":{"type":"point","filled":true,"size":55,"strokeWidth":1.2,"opacity":1},"encoding":{"x":{"field":"xm","type":"quantitative","axis":null},"y":{"field":"y","type":"quantitative","axis":null},"fill":{"field":"it","type":"nominal","scale":{"domain":["d","o"],"range":["#0000ff","#ffffff"]},"legend":null},"stroke":{"field":"it","type":"nominal","scale":{"domain":["d","o"],"range":["#0000ff","#000000"]},"legend":null}}},
{"transform":[{"filter":"datum.k==='l'"}],"mark":{"type":"text","align":"left","baseline":"middle","fontSize":14,"dx":5},"encoding":{"x":{"field":"x2","type":"quantitative","axis":null},"y":{"field":"y","type":"quantitative","axis":null},"text":{"field":"lab"}}}
]},
{"width":306,"height":275,"transform":[{"filter":"(datum.p==='ampt'||datum.p==='all')&&datum.v==='v3'"}],"layer":[
{"transform":[{"filter":"datum.k==='m'"}],"mark":{"type":"area","color":"#8c8c8c","clip":true},"encoding":{"x":{"field":"pt","type":"quantitative","scale":{"domain":[-0.3,3.2],"nice":false,"zero":false},"axis":{"orient":"bottom","values":[-0.2,-0.1,0,0.1,0.2,0.3,0.4,0.5,0.6,0.7,0.8,0.9,1,1.1,1.2,1.3,1.4,1.5,1.6,1.7,1.8,1.9,2,2.1,2.2,2.3,2.4,2.5,2.6,2.7,2.8,2.9,3,3.1],"labelExpr":"datum.value>-0.05&&abs(datum.value*2-round(datum.value*2))<0.001?toString(round(datum.value*10)/10):''","labelPadding":12,"title":"p\u209c(GeV/c)","tickSize":{"condition":{"test":"abs(datum.value*2-round(datum.value*2))<0.001","value":-10},"value":-5}}},"y":{"field":"lo","type":"quantitative","scale":{"domain":[0,0.088],"nice":false},"axis":{"orient":"left","values":[0,0.002,0.004,0.006,0.008,0.01,0.012,0.014,0.016,0.018,0.02,0.022,0.024,0.026,0.028,0.03,0.032,0.034,0.036,0.038,0.04,0.042,0.044,0.046,0.048,0.05,0.052,0.054,0.056,0.058,0.06,0.062,0.064,0.066,0.068,0.07,0.072,0.074,0.076,0.078,0.08,0.082,0.084,0.086],"labelExpr":"abs(datum.value*100-round(datum.value*100))<0.001?toString(round(datum.value*100)/100):''","labelPadding":13,"title":"v\u2083","titlePadding":0,"tickSize":{"condition":{"test":"abs(datum.value*100-round(datum.value*100))<0.001","value":-10},"value":-5}}},"y2":{"field":"hi"}}},
{"transform":[{"filter":"datum.k==='d'"}],"mark":{"type":"bar","width":9,"color":"#0000ff","opacity":0.4},"encoding":{"x":{"field":"pt","type":"quantitative","axis":null},"y":{"field":"slo","type":"quantitative","axis":null},"y2":{"field":"shi"}}},
{"transform":[{"filter":"datum.k==='m'"}],"mark":{"type":"line","color":"#000000","strokeDash":[6,4],"strokeWidth":2,"clip":true},"encoding":{"x":{"field":"pt","type":"quantitative","axis":{"orient":"top","values":[-0.2,-0.1,0,0.1,0.2,0.3,0.4,0.5,0.6,0.7,0.8,0.9,1,1.1,1.2,1.3,1.4,1.5,1.6,1.7,1.8,1.9,2,2.1,2.2,2.3,2.4,2.5,2.6,2.7,2.8,2.9,3,3.1],"labels":false,"title":null,"tickSize":{"condition":{"test":"abs(datum.value*2-round(datum.value*2))<0.001","value":-10},"value":-5}}},"y":{"field":"mid","type":"quantitative","axis":{"orient":"right","values":[0.002,0.004,0.006,0.008,0.01,0.012,0.014,0.016,0.018,0.02,0.022,0.024,0.026,0.028,0.03,0.032,0.034,0.036,0.038,0.04,0.042,0.044,0.046,0.048,0.05,0.052,0.054,0.056,0.058,0.06,0.062,0.064,0.066,0.068,0.07,0.072,0.074,0.076,0.078,0.08,0.082,0.084,0.086],"labels":false,"title":null,"tickSize":{"condition":{"test":"abs(datum.value*100-round(datum.value*100))<0.001","value":-10},"value":-5}}}}},
{"transform":[{"filter":"datum.k==='m'"}],"mark":{"type":"line","color":"#ff9900","strokeWidth":2,"clip":true},"encoding":{"x":{"field":"pt","type":"quantitative","axis":null},"y":{"field":"nw","type":"quantitative","axis":null}}},
{"transform":[{"filter":"datum.k==='d'"}],"mark":{"type":"errorbar","ticks":true,"size":5,"color":"#0000ff","thickness":1.5},"encoding":{"x":{"field":"pt","type":"quantitative","axis":null},"y":{"field":"lo","type":"quantitative","axis":null},"y2":{"field":"hi"}}},
{"transform":[{"filter":"datum.k==='d'"}],"mark":{"type":"circle","color":"#0000ff","size":55,"opacity":1},"encoding":{"x":{"field":"pt","type":"quantitative","axis":null},"y":{"field":"val","type":"quantitative","axis":null}}},
{"transform":[{"filter":"datum.k==='o'"}],"mark":{"type":"errorbar","ticks":true,"size":5,"color":"#000000","thickness":1.5},"encoding":{"x":{"field":"pt","type":"quantitative","axis":null},"y":{"field":"lo","type":"quantitative","axis":null},"y2":{"field":"hi"}}},
{"transform":[{"filter":"datum.k==='o'"}],"mark":{"type":"point","color":"#000000","size":60,"strokeWidth":1.2,"opacity":1},"encoding":{"x":{"field":"pt","type":"quantitative","axis":null},"y":{"field":"val","type":"quantitative","axis":null}}},
{"transform":[{"filter":"datum.k==='t'"}],"mark":{"type":"text","align":"left","baseline":"middle","fontSize":14.5,"fontWeight":"bold"},"encoding":{"x":{"datum":-0.2,"type":"quantitative","axis":null},"y":{"field":"y","type":"quantitative","axis":null},"text":{"field":"t"}}},
{"transform":[{"filter":"datum.k==='t'"}],"mark":{"type":"text","align":"left","baseline":"middle","fontSize":10.5,"fontWeight":"bold","dx":9,"dy":4.5},"encoding":{"x":{"datum":-0.2,"type":"quantitative","axis":null},"y":{"field":"y","type":"quantitative","axis":null},"text":{"field":"s"}}}
]}
],"spacing":0,"bounds":"flush"},
{"vconcat":[
{"width":306,"height":271,"transform":[{"filter":"(datum.p==='supersonic'||datum.p==='all')&&datum.v==='v2'"}],"layer":[
{"transform":[{"filter":"datum.k==='m'"}],"mark":{"type":"area","color":"#8c8c8c","clip":true},"encoding":{"x":{"field":"pt","type":"quantitative","scale":{"domain":[-0.3,3.2],"nice":false,"zero":false},"axis":{"orient":"bottom","values":[-0.2,-0.1,0,0.1,0.2,0.3,0.4,0.5,0.6,0.7,0.8,0.9,1,1.1,1.2,1.3,1.4,1.5,1.6,1.7,1.8,1.9,2,2.1,2.2,2.3,2.4,2.5,2.6,2.7,2.8,2.9,3,3.1],"labels":false,"title":null,"tickSize":{"condition":{"test":"abs(datum.value*2-round(datum.value*2))<0.001","value":-10},"value":-5}}},"y":{"field":"lo","type":"quantitative","scale":{"domain":[0,0.18],"nice":false},"axis":{"orient":"left","values":[0.004,0.008,0.012,0.016,0.02,0.024,0.028,0.032,0.036,0.04,0.044,0.048,0.052,0.056,0.06,0.064,0.068,0.072,0.076,0.08,0.084,0.088,0.092,0.096,0.1,0.104,0.108,0.112,0.116,0.12,0.124,0.128,0.132,0.136,0.14,0.144,0.148,0.152,0.156,0.16,0.164,0.168,0.172,0.176,0.18],"labelExpr":"datum.value>0.001&&abs(datum.value*50-round(datum.value*50))<0.001?toString(round(datum.value*100)/100):''","labelPadding":13,"title":"v\u2082","titlePadding":0,"tickSize":{"condition":{"test":"abs(datum.value*50-round(datum.value*50))<0.001","value":-10},"value":-5}}},"y2":{"field":"hi"}}},
{"transform":[{"filter":"datum.k==='d'"}],"mark":{"type":"bar","width":9,"color":"#0000ff","opacity":0.4},"encoding":{"x":{"field":"pt","type":"quantitative","axis":null},"y":{"field":"slo","type":"quantitative","axis":null},"y2":{"field":"shi"}}},
{"transform":[{"filter":"datum.k==='m'"}],"mark":{"type":"line","color":"#000000","strokeDash":[6,4],"strokeWidth":2,"clip":true},"encoding":{"x":{"field":"pt","type":"quantitative","axis":{"orient":"top","values":[-0.2,-0.1,0,0.1,0.2,0.3,0.4,0.5,0.6,0.7,0.8,0.9,1,1.1,1.2,1.3,1.4,1.5,1.6,1.7,1.8,1.9,2,2.1,2.2,2.3,2.4,2.5,2.6,2.7,2.8,2.9,3,3.1],"labels":false,"title":null,"tickSize":{"condition":{"test":"abs(datum.value*2-round(datum.value*2))<0.001","value":-10},"value":-5}}},"y":{"field":"mid","type":"quantitative","axis":{"orient":"right","values":[0.004,0.008,0.012,0.016,0.02,0.024,0.028,0.032,0.036,0.04,0.044,0.048,0.052,0.056,0.06,0.064,0.068,0.072,0.076,0.08,0.084,0.088,0.092,0.096,0.1,0.104,0.108,0.112,0.116,0.12,0.124,0.128,0.132,0.136,0.14,0.144,0.148,0.152,0.156,0.16,0.164,0.168,0.172,0.176],"labels":false,"title":null,"tickSize":{"condition":{"test":"abs(datum.value*50-round(datum.value*50))<0.001","value":-10},"value":-5}}}}},
{"transform":[{"filter":"datum.k==='m'"}],"mark":{"type":"line","color":"#ff9900","strokeWidth":2,"clip":true},"encoding":{"x":{"field":"pt","type":"quantitative","axis":null},"y":{"field":"nw","type":"quantitative","axis":null}}},
{"transform":[{"filter":"datum.k==='d'"}],"mark":{"type":"errorbar","ticks":true,"size":5,"color":"#0000ff","thickness":1.5},"encoding":{"x":{"field":"pt","type":"quantitative","axis":null},"y":{"field":"lo","type":"quantitative","axis":null},"y2":{"field":"hi"}}},
{"transform":[{"filter":"datum.k==='d'"}],"mark":{"type":"circle","color":"#0000ff","size":55,"opacity":1},"encoding":{"x":{"field":"pt","type":"quantitative","axis":null},"y":{"field":"val","type":"quantitative","axis":null}}},
{"transform":[{"filter":"datum.k==='o'"}],"mark":{"type":"errorbar","ticks":true,"size":5,"color":"#000000","thickness":1.5},"encoding":{"x":{"field":"pt","type":"quantitative","axis":null},"y":{"field":"lo","type":"quantitative","axis":null},"y2":{"field":"hi"}}},
{"transform":[{"filter":"datum.k==='o'"}],"mark":{"type":"point","color":"#000000","size":60,"strokeWidth":1.2,"opacity":1},"encoding":{"x":{"field":"pt","type":"quantitative","axis":null},"y":{"field":"val","type":"quantitative","axis":null}}},
{"transform":[{"filter":"datum.k==='t'"}],"mark":{"type":"text","align":"left","baseline":"middle","fontSize":13,"fontWeight":"bold"},"encoding":{"x":{"datum":-0.2,"type":"quantitative","axis":null},"y":{"field":"y","type":"quantitative","axis":null},"text":{"field":"t"}}},
{"transform":[{"filter":"datum.k==='t'"}],"mark":{"type":"text","align":"left","baseline":"middle","fontSize":9.5,"fontWeight":"bold","dx":8,"dy":4},"encoding":{"x":{"datum":-0.2,"type":"quantitative","axis":null},"y":{"field":"y","type":"quantitative","axis":null},"text":{"field":"s"}}},
{"transform":[{"filter":"datum.k==='s'"}],"mark":{"type":"text","align":"left","baseline":"middle","fontSize":18,"fontWeight":"bold","color":"#ff0000"},"encoding":{"x":{"datum":-0.3,"type":"quantitative","axis":null},"y":{"datum":0.013,"type":"quantitative","axis":null},"text":{"field":"t"}}},
{"transform":[{"filter":"datum.k==='l'&&datum.it==='m'"}],"mark":{"type":"rule","color":"#8c8c8c","strokeWidth":11},"encoding":{"x":{"field":"x1","type":"quantitative","axis":null},"x2":{"field":"x2"},"y":{"field":"y","type":"quantitative","axis":null}}},
{"transform":[{"filter":"datum.k==='l'"}],"mark":{"type":"rule","strokeWidth":2},"encoding":{"x":{"field":"x1","type":"quantitative","axis":null},"x2":{"field":"x2"},"y":{"field":"y","type":"quantitative","axis":null},"color":{"field":"it","type":"nominal","scale":{"domain":["m","n","d","o"],"range":["#000000","#ff9900","#0000ff","#000000"]},"legend":null},"strokeDash":{"field":"it","type":"nominal","scale":{"domain":["m","n","d","o"],"range":[[6,4],[1,0],[1,0],[1,0]]},"legend":null}}},
{"transform":[{"filter":"datum.k==='l'&&(datum.it==='d'||datum.it==='o')"}],"mark":{"type":"point","filled":true,"size":55,"strokeWidth":1.2,"opacity":1},"encoding":{"x":{"field":"xm","type":"quantitative","axis":null},"y":{"field":"y","type":"quantitative","axis":null},"fill":{"field":"it","type":"nominal","scale":{"domain":["d","o"],"range":["#0000ff","#ffffff"]},"legend":null},"stroke":{"field":"it","type":"nominal","scale":{"domain":["d","o"],"range":["#0000ff","#000000"]},"legend":null}}},
{"transform":[{"filter":"datum.k==='l'"}],"mark":{"type":"text","align":"left","baseline":"middle","fontSize":14,"fontWeight":"bold","dx":5},"encoding":{"x":{"field":"x2","type":"quantitative","axis":null},"y":{"field":"y","type":"quantitative","axis":null},"text":{"field":"lab"}}}
]},
{"width":306,"height":275,"transform":[{"filter":"(datum.p==='supersonic'||datum.p==='all')&&datum.v==='v3'"}],"layer":[
{"transform":[{"filter":"datum.k==='m'"}],"mark":{"type":"area","color":"#8c8c8c","clip":true},"encoding":{"x":{"field":"pt","type":"quantitative","scale":{"domain":[-0.3,3.2],"nice":false,"zero":false},"axis":{"orient":"bottom","values":[-0.2,-0.1,0,0.1,0.2,0.3,0.4,0.5,0.6,0.7,0.8,0.9,1,1.1,1.2,1.3,1.4,1.5,1.6,1.7,1.8,1.9,2,2.1,2.2,2.3,2.4,2.5,2.6,2.7,2.8,2.9,3,3.1],"labelExpr":"datum.value>-0.05&&abs(datum.value*2-round(datum.value*2))<0.001?toString(round(datum.value*10)/10):''","labelPadding":12,"title":"p\u209c(GeV/c)","tickSize":{"condition":{"test":"abs(datum.value*2-round(datum.value*2))<0.001","value":-10},"value":-5}}},"y":{"field":"lo","type":"quantitative","scale":{"domain":[0,0.088],"nice":false},"axis":{"orient":"left","values":[0,0.002,0.004,0.006,0.008,0.01,0.012,0.014,0.016,0.018,0.02,0.022,0.024,0.026,0.028,0.03,0.032,0.034,0.036,0.038,0.04,0.042,0.044,0.046,0.048,0.05,0.052,0.054,0.056,0.058,0.06,0.062,0.064,0.066,0.068,0.07,0.072,0.074,0.076,0.078,0.08,0.082,0.084,0.086],"labelExpr":"abs(datum.value*100-round(datum.value*100))<0.001?toString(round(datum.value*100)/100):''","labelPadding":13,"title":"v\u2083","titlePadding":0,"tickSize":{"condition":{"test":"abs(datum.value*100-round(datum.value*100))<0.001","value":-10},"value":-5}}},"y2":{"field":"hi"}}},
{"transform":[{"filter":"datum.k==='d'"}],"mark":{"type":"bar","width":9,"color":"#0000ff","opacity":0.4},"encoding":{"x":{"field":"pt","type":"quantitative","axis":null},"y":{"field":"slo","type":"quantitative","axis":null},"y2":{"field":"shi"}}},
{"transform":[{"filter":"datum.k==='m'"}],"mark":{"type":"line","color":"#000000","strokeDash":[6,4],"strokeWidth":2,"clip":true},"encoding":{"x":{"field":"pt","type":"quantitative","axis":{"orient":"top","values":[-0.2,-0.1,0,0.1,0.2,0.3,0.4,0.5,0.6,0.7,0.8,0.9,1,1.1,1.2,1.3,1.4,1.5,1.6,1.7,1.8,1.9,2,2.1,2.2,2.3,2.4,2.5,2.6,2.7,2.8,2.9,3,3.1],"labels":false,"title":null,"tickSize":{"condition":{"test":"abs(datum.value*2-round(datum.value*2))<0.001","value":-10},"value":-5}}},"y":{"field":"mid","type":"quantitative","axis":{"orient":"right","values":[0.002,0.004,0.006,0.008,0.01,0.012,0.014,0.016,0.018,0.02,0.022,0.024,0.026,0.028,0.03,0.032,0.034,0.036,0.038,0.04,0.042,0.044,0.046,0.048,0.05,0.052,0.054,0.056,0.058,0.06,0.062,0.064,0.066,0.068,0.07,0.072,0.074,0.076,0.078,0.08,0.082,0.084,0.086],"labels":false,"title":null,"tickSize":{"condition":{"test":"abs(datum.value*100-round(datum.value*100))<0.001","value":-10},"value":-5}}}}},
{"transform":[{"filter":"datum.k==='m'"}],"mark":{"type":"line","color":"#ff9900","strokeWidth":2,"clip":true},"encoding":{"x":{"field":"pt","type":"quantitative","axis":null},"y":{"field":"nw","type":"quantitative","axis":null}}},
{"transform":[{"filter":"datum.k==='d'"}],"mark":{"type":"errorbar","ticks":true,"size":5,"color":"#0000ff","thickness":1.5},"encoding":{"x":{"field":"pt","type":"quantitative","axis":null},"y":{"field":"lo","type":"quantitative","axis":null},"y2":{"field":"hi"}}},
{"transform":[{"filter":"datum.k==='d'"}],"mark":{"type":"circle","color":"#0000ff","size":55,"opacity":1},"encoding":{"x":{"field":"pt","type":"quantitative","axis":null},"y":{"field":"val","type":"quantitative","axis":null}}},
{"transform":[{"filter":"datum.k==='o'"}],"mark":{"type":"errorbar","ticks":true,"size":5,"color":"#000000","thickness":1.5},"encoding":{"x":{"field":"pt","type":"quantitative","axis":null},"y":{"field":"lo","type":"quantitative","axis":null},"y2":{"field":"hi"}}},
{"transform":[{"filter":"datum.k==='o'"}],"mark":{"type":"point","color":"#000000","size":60,"strokeWidth":1.2,"opacity":1},"encoding":{"x":{"field":"pt","type":"quantitative","axis":null},"y":{"field":"val","type":"quantitative","axis":null}}},
{"transform":[{"filter":"datum.k==='t'"}],"mark":{"type":"text","align":"left","baseline":"middle","fontSize":14.5,"fontWeight":"bold"},"encoding":{"x":{"datum":-0.2,"type":"quantitative","axis":null},"y":{"field":"y","type":"quantitative","axis":null},"text":{"field":"t"}}},
{"transform":[{"filter":"datum.k==='t'"}],"mark":{"type":"text","align":"left","baseline":"middle","fontSize":10.5,"fontWeight":"bold","dx":9,"dy":4.5},"encoding":{"x":{"datum":-0.2,"type":"quantitative","axis":null},"y":{"field":"y","type":"quantitative","axis":null},"text":{"field":"s"}}}
]}
],"spacing":0,"bounds":"flush"}
],"spacing":14,"bounds":"full"}
]
}
